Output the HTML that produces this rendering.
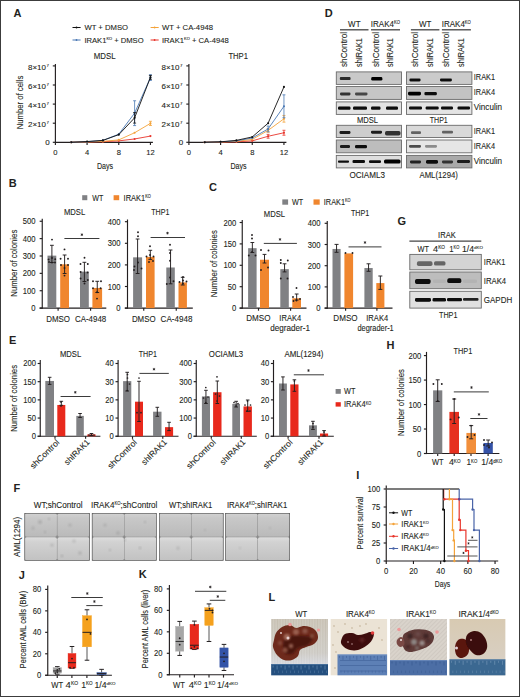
<!DOCTYPE html>
<html><head><meta charset="utf-8"><style>
html,body{margin:0;padding:0;background:#fff;overflow:hidden;width:520px;height:697px;}
svg{display:block;}
text{font-family:"Liberation Sans",sans-serif;}
</style></head><body>
<svg width="520" height="697" viewBox="0 0 520 697">
<defs>
<filter id="bl" x="-20%" y="-50%" width="140%" height="200%"><feGaussianBlur stdDeviation="0.55"/></filter>
<filter id="bl2" x="-20%" y="-20%" width="140%" height="140%"><feGaussianBlur stdDeviation="1.2"/></filter>
<linearGradient id="fgt" x1="0" y1="0" x2="0" y2="1"><stop offset="0" stop-color="#d2d2d2"/><stop offset="0.2" stop-color="#c8c8c8"/><stop offset="1" stop-color="#bababa"/></linearGradient>
<linearGradient id="fgb" x1="0" y1="0" x2="0" y2="1"><stop offset="0" stop-color="#dedede"/><stop offset="0.2" stop-color="#d2d2d2"/><stop offset="1" stop-color="#c2c2c2"/></linearGradient>
<linearGradient id="gwt" x1="0" y1="0" x2="0" y2="1"><stop offset="0" stop-color="#c6bfb1"/><stop offset="0.6" stop-color="#cbc8c2"/><stop offset="0.8" stop-color="#d4d6dc"/></linearGradient>
<linearGradient id="gdk" x1="0" y1="0" x2="0" y2="1"><stop offset="0" stop-color="#d8cab2"/><stop offset="0.7" stop-color="#d8cfc2"/><stop offset="1" stop-color="#cfc9c0"/></linearGradient>
<pattern id="hatch" width="3" height="3" patternUnits="userSpaceOnUse" patternTransform="rotate(45)"><line x1="0" y1="0" x2="0" y2="3" stroke="#a8a098" stroke-width="0.8"/></pattern>
</defs>
<rect x="0.00" y="0.00" width="520.00" height="697.00" fill="#ffffff"/>
<rect x="0.5" y="0.5" width="519" height="696" fill="none" stroke="#3c3c3c" stroke-width="1"/>
<text transform="translate(13.60,17.10)" font-size="11" text-anchor="start" fill="#231f20" font-weight="bold"><tspan>A</tspan></text>
<line x1="72.50" y1="27.50" x2="80.60" y2="27.50" stroke="#111111" stroke-width="1.0"/>
<circle cx="76.50" cy="27.50" r="0.90" fill="#111111"/>
<text transform="translate(84.40,30.20) scale(0.9623,1)" font-size="8.0" text-anchor="start" fill="#231f20" stroke="#231f20" stroke-width="0.1"><tspan>WT + DMSO</tspan></text>
<line x1="72.50" y1="40.00" x2="80.60" y2="40.00" stroke="#4a78b4" stroke-width="1.0"/>
<circle cx="76.50" cy="40.00" r="0.90" fill="#4a78b4"/>
<text transform="translate(84.40,42.70) scale(0.9526,1)" font-size="8.0" text-anchor="start" fill="#231f20" stroke="#231f20" stroke-width="0.1"><tspan>IRAK1</tspan><tspan font-size="4.16" dy="-2.40">KO</tspan><tspan dy="2.40"> + DMSO</tspan></text>
<line x1="150.60" y1="27.50" x2="158.70" y2="27.50" stroke="#f4a33a" stroke-width="1.0"/>
<circle cx="154.60" cy="27.50" r="0.90" fill="#f4a33a"/>
<text transform="translate(161.90,30.20) scale(0.9663,1)" font-size="8.0" text-anchor="start" fill="#231f20" stroke="#231f20" stroke-width="0.1"><tspan>WT + CA-4948</tspan></text>
<line x1="150.60" y1="40.00" x2="158.70" y2="40.00" stroke="#e8362c" stroke-width="1.0"/>
<circle cx="154.60" cy="40.00" r="0.90" fill="#e8362c"/>
<text transform="translate(161.90,42.70) scale(0.9581,1)" font-size="8.0" text-anchor="start" fill="#231f20" stroke="#231f20" stroke-width="0.1"><tspan>IRAK1</tspan><tspan font-size="4.16" dy="-2.40">KO</tspan><tspan dy="2.40"> + CA-4948</tspan></text>
<text transform="translate(104.70,58.50) scale(0.9497,1)" font-size="8.3" text-anchor="middle" fill="#231f20" stroke="#231f20" stroke-width="0.1"><tspan>MDSL</tspan></text>
<line x1="55.40" y1="64.00" x2="55.40" y2="142.85" stroke="#231f20" stroke-width="1.15"/>
<line x1="52.80" y1="65.90" x2="55.40" y2="65.90" stroke="#231f20" stroke-width="1.15"/>
<text transform="translate(46.00,69.90) scale(1.0245,1)" font-size="7.8" text-anchor="end" fill="#231f20" stroke="#231f20" stroke-width="0.1"><tspan>8×10</tspan></text>
<text transform="translate(46.40,66.80)" font-size="4.4" text-anchor="start" fill="#231f20" stroke="#231f20" stroke-width="0.1"><tspan>7</tspan></text>
<line x1="52.80" y1="85.00" x2="55.40" y2="85.00" stroke="#231f20" stroke-width="1.15"/>
<text transform="translate(46.00,89.00) scale(1.0245,1)" font-size="7.8" text-anchor="end" fill="#231f20" stroke="#231f20" stroke-width="0.1"><tspan>6×10</tspan></text>
<text transform="translate(46.40,85.90)" font-size="4.4" text-anchor="start" fill="#231f20" stroke="#231f20" stroke-width="0.1"><tspan>7</tspan></text>
<line x1="52.80" y1="104.10" x2="55.40" y2="104.10" stroke="#231f20" stroke-width="1.15"/>
<text transform="translate(46.00,108.10) scale(1.0245,1)" font-size="7.8" text-anchor="end" fill="#231f20" stroke="#231f20" stroke-width="0.1"><tspan>4×10</tspan></text>
<text transform="translate(46.40,105.00)" font-size="4.4" text-anchor="start" fill="#231f20" stroke="#231f20" stroke-width="0.1"><tspan>7</tspan></text>
<line x1="52.80" y1="123.20" x2="55.40" y2="123.20" stroke="#231f20" stroke-width="1.15"/>
<text transform="translate(46.00,127.20) scale(1.0245,1)" font-size="7.8" text-anchor="end" fill="#231f20" stroke="#231f20" stroke-width="0.1"><tspan>2×10</tspan></text>
<text transform="translate(46.40,124.10)" font-size="4.4" text-anchor="start" fill="#231f20" stroke="#231f20" stroke-width="0.1"><tspan>7</tspan></text>
<line x1="52.80" y1="142.30" x2="55.40" y2="142.30" stroke="#231f20" stroke-width="1.15"/>
<text transform="translate(49.80,145.30)" font-size="8.0" text-anchor="end" fill="#231f20" stroke="#231f20" stroke-width="0.1"><tspan>0</tspan></text>
<line x1="55.40" y1="142.30" x2="152.90" y2="142.30" stroke="#231f20" stroke-width="1.15"/>
<line x1="55.40" y1="142.30" x2="55.40" y2="145.00" stroke="#231f20" stroke-width="1.15"/>
<text transform="translate(55.40,155.40) scale(0.9500,1)" font-size="8.0" text-anchor="middle" fill="#231f20" stroke="#231f20" stroke-width="0.1"><tspan>0</tspan></text>
<line x1="87.08" y1="142.30" x2="87.08" y2="145.00" stroke="#231f20" stroke-width="1.15"/>
<text transform="translate(87.08,155.40) scale(0.9500,1)" font-size="8.0" text-anchor="middle" fill="#231f20" stroke="#231f20" stroke-width="0.1"><tspan>4</tspan></text>
<line x1="118.76" y1="142.30" x2="118.76" y2="145.00" stroke="#231f20" stroke-width="1.15"/>
<text transform="translate(118.76,155.40) scale(0.9500,1)" font-size="8.0" text-anchor="middle" fill="#231f20" stroke="#231f20" stroke-width="0.1"><tspan>8</tspan></text>
<line x1="150.44" y1="142.30" x2="150.44" y2="145.00" stroke="#231f20" stroke-width="1.15"/>
<text transform="translate(150.44,155.40) scale(0.9500,1)" font-size="8.0" text-anchor="middle" fill="#231f20" stroke="#231f20" stroke-width="0.1"><tspan>12</tspan></text>
<text transform="translate(105.00,168.60) scale(0.8268,1)" font-size="8.6" text-anchor="middle" fill="#231f20" stroke="#231f20" stroke-width="0.1"><tspan>Days</tspan></text>
<text transform="translate(22.90,102.50) rotate(-90) scale(0.8885,1)" font-size="8.7" text-anchor="middle" fill="#231f20" stroke="#231f20" stroke-width="0.1"><tspan>Number of cells</tspan></text>
<polyline points="71.24,142.30 87.08,142.01 102.92,141.73 118.76,140.87 134.60,138.96 150.44,136.09" fill="none" stroke="#e8362c" stroke-width="0.9"/>
<circle cx="71.24" cy="142.30" r="1.05" fill="#e8362c"/>
<circle cx="87.08" cy="142.01" r="1.05" fill="#e8362c"/>
<circle cx="102.92" cy="141.73" r="1.05" fill="#e8362c"/>
<circle cx="118.76" cy="140.87" r="1.05" fill="#e8362c"/>
<circle cx="134.60" cy="138.96" r="1.05" fill="#e8362c"/>
<circle cx="150.44" cy="136.09" r="1.05" fill="#e8362c"/>
<polyline points="71.24,142.30 87.08,141.92 102.92,141.34 118.76,139.91 134.60,132.75 150.44,123.39" fill="none" stroke="#f4a33a" stroke-width="0.9"/>
<circle cx="71.24" cy="142.30" r="1.05" fill="#f4a33a"/>
<circle cx="87.08" cy="141.92" r="1.05" fill="#f4a33a"/>
<circle cx="102.92" cy="141.34" r="1.05" fill="#f4a33a"/>
<circle cx="118.76" cy="139.91" r="1.05" fill="#f4a33a"/>
<circle cx="134.60" cy="132.75" r="1.05" fill="#f4a33a"/>
<circle cx="150.44" cy="123.39" r="1.05" fill="#f4a33a"/>
<line x1="150.44" y1="121.29" x2="150.44" y2="125.49" stroke="#f4a33a" stroke-width="0.8"/>
<line x1="148.94" y1="121.29" x2="151.94" y2="121.29" stroke="#f4a33a" stroke-width="0.8"/>
<line x1="148.94" y1="125.49" x2="151.94" y2="125.49" stroke="#f4a33a" stroke-width="0.8"/>
<polyline points="71.24,142.30 87.08,141.73 102.92,140.39 118.76,134.18 134.60,113.17 150.44,77.55" fill="none" stroke="#4a78b4" stroke-width="0.9"/>
<circle cx="71.24" cy="142.30" r="1.05" fill="#4a78b4"/>
<circle cx="87.08" cy="141.73" r="1.05" fill="#4a78b4"/>
<circle cx="102.92" cy="140.39" r="1.05" fill="#4a78b4"/>
<circle cx="118.76" cy="134.18" r="1.05" fill="#4a78b4"/>
<circle cx="134.60" cy="113.17" r="1.05" fill="#4a78b4"/>
<line x1="134.60" y1="100.76" x2="134.60" y2="125.59" stroke="#4a78b4" stroke-width="0.8"/>
<line x1="133.10" y1="100.76" x2="136.10" y2="100.76" stroke="#4a78b4" stroke-width="0.8"/>
<line x1="133.10" y1="125.59" x2="136.10" y2="125.59" stroke="#4a78b4" stroke-width="0.8"/>
<circle cx="150.44" cy="77.55" r="1.05" fill="#4a78b4"/>
<line x1="150.44" y1="74.69" x2="150.44" y2="80.42" stroke="#4a78b4" stroke-width="0.8"/>
<line x1="148.94" y1="74.69" x2="151.94" y2="74.69" stroke="#4a78b4" stroke-width="0.8"/>
<line x1="148.94" y1="80.42" x2="151.94" y2="80.42" stroke="#4a78b4" stroke-width="0.8"/>
<polyline points="71.24,142.30 87.08,141.54 102.92,140.39 118.76,134.66 134.60,117.85 150.44,77.36" fill="none" stroke="#111111" stroke-width="0.9"/>
<circle cx="71.24" cy="142.30" r="1.05" fill="#111111"/>
<circle cx="87.08" cy="141.54" r="1.05" fill="#111111"/>
<circle cx="102.92" cy="140.39" r="1.05" fill="#111111"/>
<circle cx="118.76" cy="134.66" r="1.05" fill="#111111"/>
<circle cx="134.60" cy="117.85" r="1.05" fill="#111111"/>
<line x1="134.60" y1="112.60" x2="134.60" y2="123.10" stroke="#111111" stroke-width="0.8"/>
<line x1="133.10" y1="112.60" x2="136.10" y2="112.60" stroke="#111111" stroke-width="0.8"/>
<line x1="133.10" y1="123.10" x2="136.10" y2="123.10" stroke="#111111" stroke-width="0.8"/>
<circle cx="150.44" cy="77.36" r="1.05" fill="#111111"/>
<line x1="150.44" y1="75.45" x2="150.44" y2="79.27" stroke="#111111" stroke-width="0.8"/>
<line x1="148.94" y1="75.45" x2="151.94" y2="75.45" stroke="#111111" stroke-width="0.8"/>
<line x1="148.94" y1="79.27" x2="151.94" y2="79.27" stroke="#111111" stroke-width="0.8"/>
<text transform="translate(238.20,58.50) scale(0.9238,1)" font-size="8.3" text-anchor="middle" fill="#231f20" stroke="#231f20" stroke-width="0.1"><tspan>THP1</tspan></text>
<line x1="188.90" y1="64.00" x2="188.90" y2="142.85" stroke="#231f20" stroke-width="1.15"/>
<line x1="186.30" y1="65.90" x2="188.90" y2="65.90" stroke="#231f20" stroke-width="1.15"/>
<text transform="translate(179.50,69.90) scale(1.0245,1)" font-size="7.8" text-anchor="end" fill="#231f20" stroke="#231f20" stroke-width="0.1"><tspan>8×10</tspan></text>
<text transform="translate(179.90,66.80)" font-size="4.4" text-anchor="start" fill="#231f20" stroke="#231f20" stroke-width="0.1"><tspan>7</tspan></text>
<line x1="186.30" y1="85.00" x2="188.90" y2="85.00" stroke="#231f20" stroke-width="1.15"/>
<text transform="translate(179.50,89.00) scale(1.0245,1)" font-size="7.8" text-anchor="end" fill="#231f20" stroke="#231f20" stroke-width="0.1"><tspan>6×10</tspan></text>
<text transform="translate(179.90,85.90)" font-size="4.4" text-anchor="start" fill="#231f20" stroke="#231f20" stroke-width="0.1"><tspan>7</tspan></text>
<line x1="186.30" y1="104.10" x2="188.90" y2="104.10" stroke="#231f20" stroke-width="1.15"/>
<text transform="translate(179.50,108.10) scale(1.0245,1)" font-size="7.8" text-anchor="end" fill="#231f20" stroke="#231f20" stroke-width="0.1"><tspan>4×10</tspan></text>
<text transform="translate(179.90,105.00)" font-size="4.4" text-anchor="start" fill="#231f20" stroke="#231f20" stroke-width="0.1"><tspan>7</tspan></text>
<line x1="186.30" y1="123.20" x2="188.90" y2="123.20" stroke="#231f20" stroke-width="1.15"/>
<text transform="translate(179.50,127.20) scale(1.0245,1)" font-size="7.8" text-anchor="end" fill="#231f20" stroke="#231f20" stroke-width="0.1"><tspan>2×10</tspan></text>
<text transform="translate(179.90,124.10)" font-size="4.4" text-anchor="start" fill="#231f20" stroke="#231f20" stroke-width="0.1"><tspan>7</tspan></text>
<line x1="186.30" y1="142.30" x2="188.90" y2="142.30" stroke="#231f20" stroke-width="1.15"/>
<text transform="translate(183.30,145.30)" font-size="8.0" text-anchor="end" fill="#231f20" stroke="#231f20" stroke-width="0.1"><tspan>0</tspan></text>
<line x1="188.90" y1="142.30" x2="286.40" y2="142.30" stroke="#231f20" stroke-width="1.15"/>
<line x1="188.90" y1="142.30" x2="188.90" y2="145.00" stroke="#231f20" stroke-width="1.15"/>
<text transform="translate(188.90,155.40) scale(0.9500,1)" font-size="8.0" text-anchor="middle" fill="#231f20" stroke="#231f20" stroke-width="0.1"><tspan>0</tspan></text>
<line x1="220.58" y1="142.30" x2="220.58" y2="145.00" stroke="#231f20" stroke-width="1.15"/>
<text transform="translate(220.58,155.40) scale(0.9500,1)" font-size="8.0" text-anchor="middle" fill="#231f20" stroke="#231f20" stroke-width="0.1"><tspan>4</tspan></text>
<line x1="252.26" y1="142.30" x2="252.26" y2="145.00" stroke="#231f20" stroke-width="1.15"/>
<text transform="translate(252.26,155.40) scale(0.9500,1)" font-size="8.0" text-anchor="middle" fill="#231f20" stroke="#231f20" stroke-width="0.1"><tspan>8</tspan></text>
<line x1="283.94" y1="142.30" x2="283.94" y2="145.00" stroke="#231f20" stroke-width="1.15"/>
<text transform="translate(283.94,155.40) scale(0.9500,1)" font-size="8.0" text-anchor="middle" fill="#231f20" stroke="#231f20" stroke-width="0.1"><tspan>12</tspan></text>
<text transform="translate(238.50,168.60) scale(0.8268,1)" font-size="8.6" text-anchor="middle" fill="#231f20" stroke="#231f20" stroke-width="0.1"><tspan>Days</tspan></text>
<polyline points="204.74,142.30 220.58,142.11 236.42,141.82 252.26,140.87 268.10,136.28 283.94,132.75" fill="none" stroke="#e8362c" stroke-width="0.9"/>
<circle cx="204.74" cy="142.30" r="1.05" fill="#e8362c"/>
<circle cx="220.58" cy="142.11" r="1.05" fill="#e8362c"/>
<circle cx="236.42" cy="141.82" r="1.05" fill="#e8362c"/>
<circle cx="252.26" cy="140.87" r="1.05" fill="#e8362c"/>
<circle cx="268.10" cy="136.28" r="1.05" fill="#e8362c"/>
<line x1="268.10" y1="134.37" x2="268.10" y2="138.19" stroke="#e8362c" stroke-width="0.8"/>
<line x1="266.60" y1="134.37" x2="269.60" y2="134.37" stroke="#e8362c" stroke-width="0.8"/>
<line x1="266.60" y1="138.19" x2="269.60" y2="138.19" stroke="#e8362c" stroke-width="0.8"/>
<circle cx="283.94" cy="132.75" r="1.05" fill="#e8362c"/>
<line x1="283.94" y1="130.27" x2="283.94" y2="135.23" stroke="#e8362c" stroke-width="0.8"/>
<line x1="282.44" y1="130.27" x2="285.44" y2="130.27" stroke="#e8362c" stroke-width="0.8"/>
<line x1="282.44" y1="135.23" x2="285.44" y2="135.23" stroke="#e8362c" stroke-width="0.8"/>
<polyline points="204.74,142.30 220.58,141.92 236.42,141.34 252.26,139.44 268.10,130.36 283.94,118.81" fill="none" stroke="#f4a33a" stroke-width="0.9"/>
<circle cx="204.74" cy="142.30" r="1.05" fill="#f4a33a"/>
<circle cx="220.58" cy="141.92" r="1.05" fill="#f4a33a"/>
<circle cx="236.42" cy="141.34" r="1.05" fill="#f4a33a"/>
<circle cx="252.26" cy="139.44" r="1.05" fill="#f4a33a"/>
<circle cx="268.10" cy="130.36" r="1.05" fill="#f4a33a"/>
<line x1="268.10" y1="128.45" x2="268.10" y2="132.27" stroke="#f4a33a" stroke-width="0.8"/>
<line x1="266.60" y1="128.45" x2="269.60" y2="128.45" stroke="#f4a33a" stroke-width="0.8"/>
<line x1="266.60" y1="132.27" x2="269.60" y2="132.27" stroke="#f4a33a" stroke-width="0.8"/>
<circle cx="283.94" cy="118.81" r="1.05" fill="#f4a33a"/>
<line x1="283.94" y1="115.46" x2="283.94" y2="122.15" stroke="#f4a33a" stroke-width="0.8"/>
<line x1="282.44" y1="115.46" x2="285.44" y2="115.46" stroke="#f4a33a" stroke-width="0.8"/>
<line x1="282.44" y1="122.15" x2="285.44" y2="122.15" stroke="#f4a33a" stroke-width="0.8"/>
<polyline points="204.74,142.30 220.58,141.82 236.42,140.87 252.26,138.00 268.10,128.93 283.94,106.30" fill="none" stroke="#4a78b4" stroke-width="0.9"/>
<circle cx="204.74" cy="142.30" r="1.05" fill="#4a78b4"/>
<circle cx="220.58" cy="141.82" r="1.05" fill="#4a78b4"/>
<circle cx="236.42" cy="140.87" r="1.05" fill="#4a78b4"/>
<circle cx="252.26" cy="138.00" r="1.05" fill="#4a78b4"/>
<circle cx="268.10" cy="128.93" r="1.05" fill="#4a78b4"/>
<line x1="268.10" y1="126.07" x2="268.10" y2="131.80" stroke="#4a78b4" stroke-width="0.8"/>
<line x1="266.60" y1="126.07" x2="269.60" y2="126.07" stroke="#4a78b4" stroke-width="0.8"/>
<line x1="266.60" y1="131.80" x2="269.60" y2="131.80" stroke="#4a78b4" stroke-width="0.8"/>
<circle cx="283.94" cy="106.30" r="1.05" fill="#4a78b4"/>
<line x1="283.94" y1="94.84" x2="283.94" y2="117.76" stroke="#4a78b4" stroke-width="0.8"/>
<line x1="282.44" y1="94.84" x2="285.44" y2="94.84" stroke="#4a78b4" stroke-width="0.8"/>
<line x1="282.44" y1="117.76" x2="285.44" y2="117.76" stroke="#4a78b4" stroke-width="0.8"/>
<polyline points="204.74,142.30 220.58,141.82 236.42,140.39 252.26,136.95 268.10,123.20 283.94,86.91" fill="none" stroke="#111111" stroke-width="0.9"/>
<circle cx="204.74" cy="142.30" r="1.05" fill="#111111"/>
<circle cx="220.58" cy="141.82" r="1.05" fill="#111111"/>
<circle cx="236.42" cy="140.39" r="1.05" fill="#111111"/>
<circle cx="252.26" cy="136.95" r="1.05" fill="#111111"/>
<circle cx="268.10" cy="123.20" r="1.05" fill="#111111"/>
<circle cx="283.94" cy="86.91" r="1.05" fill="#111111"/>
<text transform="translate(324.80,17.30)" font-size="11" text-anchor="start" fill="#231f20" font-weight="bold"><tspan>D</tspan></text>
<text transform="translate(354.30,26.60) scale(0.9274,1)" font-size="8.6" text-anchor="middle" fill="#231f20" stroke="#231f20" stroke-width="0.1"><tspan>WT</tspan></text>
<line x1="340.00" y1="29.80" x2="368.50" y2="29.80" stroke="#444" stroke-width="1.3"/>
<text transform="translate(370.80,26.60) scale(0.9324,1)" font-size="8.6" text-anchor="start" fill="#231f20" stroke="#231f20" stroke-width="0.1"><tspan>IRAK4</tspan><tspan font-size="4.47" dy="-2.58">KO</tspan></text>
<line x1="371.00" y1="29.80" x2="400.00" y2="29.80" stroke="#444" stroke-width="1.3"/>
<text transform="translate(425.20,26.60) scale(0.9274,1)" font-size="8.6" text-anchor="middle" fill="#231f20" stroke="#231f20" stroke-width="0.1"><tspan>WT</tspan></text>
<line x1="410.90" y1="29.80" x2="439.40" y2="29.80" stroke="#444" stroke-width="1.3"/>
<text transform="translate(441.70,26.60) scale(0.9324,1)" font-size="8.6" text-anchor="start" fill="#231f20" stroke="#231f20" stroke-width="0.1"><tspan>IRAK4</tspan><tspan font-size="4.47" dy="-2.58">KO</tspan></text>
<line x1="441.90" y1="29.80" x2="470.90" y2="29.80" stroke="#444" stroke-width="1.3"/>
<text transform="translate(346.90,67.00) rotate(-90) scale(0.9427,1)" font-size="8.7" text-anchor="start" fill="#231f20" stroke="#231f20" stroke-width="0.1"><tspan>shControl</tspan></text>
<text transform="translate(361.90,67.00) rotate(-90) scale(0.8417,1)" font-size="8.7" text-anchor="start" fill="#231f20" stroke="#231f20" stroke-width="0.1"><tspan>shIRAK1</tspan></text>
<text transform="translate(378.70,67.00) rotate(-90) scale(0.9427,1)" font-size="8.7" text-anchor="start" fill="#231f20" stroke="#231f20" stroke-width="0.1"><tspan>shControl</tspan></text>
<text transform="translate(393.10,67.00) rotate(-90) scale(0.8417,1)" font-size="8.7" text-anchor="start" fill="#231f20" stroke="#231f20" stroke-width="0.1"><tspan>shIRAK1</tspan></text>
<text transform="translate(417.60,67.00) rotate(-90) scale(0.9427,1)" font-size="8.7" text-anchor="start" fill="#231f20" stroke="#231f20" stroke-width="0.1"><tspan>shControl</tspan></text>
<text transform="translate(432.50,67.00) rotate(-90) scale(0.8417,1)" font-size="8.7" text-anchor="start" fill="#231f20" stroke="#231f20" stroke-width="0.1"><tspan>shIRAK1</tspan></text>
<text transform="translate(449.40,67.00) rotate(-90) scale(0.9427,1)" font-size="8.7" text-anchor="start" fill="#231f20" stroke="#231f20" stroke-width="0.1"><tspan>shControl</tspan></text>
<text transform="translate(463.80,67.00) rotate(-90) scale(0.8417,1)" font-size="8.7" text-anchor="start" fill="#231f20" stroke="#231f20" stroke-width="0.1"><tspan>shIRAK1</tspan></text>
<rect x="336.30" y="71.90" width="65.20" height="12.50" fill="#c9c9c9" stroke="#6a6a6a" stroke-width="0.9"/>
<rect x="336.30" y="86.50" width="65.20" height="12.90" fill="#c6c6c6" stroke="#6a6a6a" stroke-width="0.9"/>
<rect x="336.30" y="101.90" width="65.20" height="12.50" fill="#e2e2e2" stroke="#6a6a6a" stroke-width="0.9"/>
<rect x="336.30" y="125.30" width="65.20" height="12.20" fill="#cdcdcd" stroke="#6a6a6a" stroke-width="0.9"/>
<rect x="336.30" y="140.00" width="65.20" height="12.80" fill="#bdbdbd" stroke="#6a6a6a" stroke-width="0.9"/>
<rect x="336.30" y="155.40" width="65.20" height="12.50" fill="#dedede" stroke="#6a6a6a" stroke-width="0.9"/>
<rect x="406.50" y="71.90" width="65.40" height="12.50" fill="#cbcbcb" stroke="#6a6a6a" stroke-width="0.9"/>
<rect x="406.50" y="86.50" width="65.40" height="12.90" fill="#c3c3c3" stroke="#6a6a6a" stroke-width="0.9"/>
<rect x="406.50" y="101.90" width="65.40" height="12.50" fill="#e4e4e4" stroke="#6a6a6a" stroke-width="0.9"/>
<rect x="406.50" y="125.30" width="65.40" height="12.20" fill="#d9d9d9" stroke="#6a6a6a" stroke-width="0.9"/>
<rect x="406.50" y="140.00" width="65.40" height="12.80" fill="#e6e6e6" stroke="#6a6a6a" stroke-width="0.9"/>
<rect x="406.50" y="155.40" width="65.40" height="12.50" fill="#a9a9a9" stroke="#6a6a6a" stroke-width="0.9"/>
<rect x="339.80" y="77.10" width="10.80" height="3.00" rx="1.15" fill="#1a1a1a" opacity="0.9" filter="url(#bl)"/>
<rect x="371.20" y="77.00" width="11.20" height="3.60" rx="1.38" fill="#050505" opacity="1.0" filter="url(#bl)"/>
<rect x="340.00" y="92.50" width="10.50" height="3.00" rx="1.15" fill="#222" opacity="0.9" filter="url(#bl)"/>
<rect x="355.00" y="92.50" width="12.50" height="3.00" rx="1.15" fill="#333" opacity="0.85" filter="url(#bl)"/>
<rect x="338.00" y="106.50" width="12.50" height="3.20" rx="1.23" fill="#0a0a0a" opacity="1.0" filter="url(#bl)"/>
<rect x="353.00" y="106.50" width="14.00" height="3.20" rx="1.23" fill="#0a0a0a" opacity="1.0" filter="url(#bl)"/>
<rect x="371.00" y="106.50" width="9.50" height="3.20" rx="1.23" fill="#0a0a0a" opacity="1.0" filter="url(#bl)"/>
<rect x="386.00" y="106.50" width="12.00" height="3.20" rx="1.23" fill="#0a0a0a" opacity="1.0" filter="url(#bl)"/>
<rect x="409.40" y="78.60" width="11.20" height="2.80" rx="1.08" fill="#111" opacity="1.0" filter="url(#bl)"/>
<rect x="440.00" y="78.50" width="11.90" height="3.00" rx="1.15" fill="#111" opacity="1.0" filter="url(#bl)"/>
<rect x="408.00" y="91.70" width="13.00" height="3.80" rx="1.46" fill="#050505" opacity="1.0" filter="url(#bl)"/>
<rect x="424.40" y="92.00" width="12.50" height="3.20" rx="1.23" fill="#111" opacity="1.0" filter="url(#bl)"/>
<rect x="409.00" y="106.60" width="13.00" height="3.00" rx="1.15" fill="#0a0a0a" opacity="1.0" filter="url(#bl)"/>
<rect x="425.60" y="106.60" width="13.10" height="3.00" rx="1.15" fill="#0a0a0a" opacity="1.0" filter="url(#bl)"/>
<rect x="441.00" y="106.60" width="12.00" height="3.00" rx="1.15" fill="#0a0a0a" opacity="1.0" filter="url(#bl)"/>
<rect x="457.50" y="106.60" width="12.50" height="3.00" rx="1.15" fill="#0a0a0a" opacity="1.0" filter="url(#bl)"/>
<rect x="339.50" y="131.00" width="11.00" height="3.00" rx="1.15" fill="#1a1a1a" opacity="1.0" filter="url(#bl)"/>
<rect x="371.00" y="130.70" width="11.00" height="3.00" rx="1.15" fill="#1a1a1a" opacity="1.0" filter="url(#bl)"/>
<rect x="385.00" y="131.00" width="15.50" height="4.60" rx="1.77" fill="#202020" opacity="0.9" filter="url(#bl)"/>
<rect x="340.00" y="145.10" width="10.00" height="3.00" rx="1.15" fill="#1a1a1a" opacity="1.0" filter="url(#bl)"/>
<rect x="355.00" y="144.90" width="12.00" height="3.40" rx="1.31" fill="#111" opacity="1.0" filter="url(#bl)"/>
<rect x="338.00" y="160.50" width="11.00" height="2.20" rx="0.85" fill="#111" opacity="1.0" filter="url(#bl)"/>
<rect x="352.50" y="160.10" width="12.50" height="3.00" rx="1.15" fill="#111" opacity="1.0" filter="url(#bl)"/>
<rect x="369.00" y="160.20" width="12.00" height="2.80" rx="1.08" fill="#111" opacity="1.0" filter="url(#bl)"/>
<rect x="384.00" y="159.50" width="16.50" height="4.00" rx="1.54" fill="#050505" opacity="1.0" filter="url(#bl)"/>
<rect x="411.00" y="131.30" width="10.00" height="2.60" rx="1.00" fill="#444" opacity="0.8" filter="url(#bl)"/>
<rect x="442.00" y="130.80" width="11.00" height="2.80" rx="1.08" fill="#444" opacity="0.8" filter="url(#bl)"/>
<rect x="409.00" y="144.90" width="12.00" height="2.80" rx="1.08" fill="#333" opacity="0.85" filter="url(#bl)"/>
<rect x="425.00" y="144.90" width="12.00" height="2.80" rx="1.08" fill="#666" opacity="0.7" filter="url(#bl)"/>
<rect x="410.00" y="160.40" width="11.00" height="3.00" rx="1.15" fill="#222" opacity="1.0" filter="url(#bl)"/>
<rect x="426.00" y="160.00" width="12.00" height="3.80" rx="1.46" fill="#111" opacity="1.0" filter="url(#bl)"/>
<rect x="442.00" y="160.40" width="11.00" height="3.00" rx="1.15" fill="#333" opacity="1.0" filter="url(#bl)"/>
<rect x="457.00" y="159.90" width="13.00" height="3.20" rx="1.23" fill="#1a1a1a" opacity="1.0" filter="url(#bl)"/>
<text transform="translate(473.80,80.30) scale(0.8569,1)" font-size="8.6" text-anchor="start" fill="#231f20" stroke="#231f20" stroke-width="0.1"><tspan>IRAK1</tspan></text>
<text transform="translate(473.80,95.40) scale(0.8569,1)" font-size="8.6" text-anchor="start" fill="#231f20" stroke="#231f20" stroke-width="0.1"><tspan>IRAK4</tspan></text>
<text transform="translate(473.80,110.30) scale(0.9412,1)" font-size="8.6" text-anchor="start" fill="#231f20" stroke="#231f20" stroke-width="0.1"><tspan>Vinculin</tspan></text>
<text transform="translate(473.80,133.80) scale(0.8569,1)" font-size="8.6" text-anchor="start" fill="#231f20" stroke="#231f20" stroke-width="0.1"><tspan>IRAK1</tspan></text>
<text transform="translate(473.80,148.80) scale(0.8569,1)" font-size="8.6" text-anchor="start" fill="#231f20" stroke="#231f20" stroke-width="0.1"><tspan>IRAK4</tspan></text>
<text transform="translate(473.80,163.80) scale(0.9412,1)" font-size="8.6" text-anchor="start" fill="#231f20" stroke="#231f20" stroke-width="0.1"><tspan>Vinculin</tspan></text>
<text transform="translate(367.50,122.80) scale(0.8977,1)" font-size="8.5" text-anchor="middle" fill="#231f20" stroke="#231f20" stroke-width="0.1"><tspan>MDSL</tspan></text>
<text transform="translate(438.80,122.80) scale(0.8284,1)" font-size="8.5" text-anchor="middle" fill="#231f20" stroke="#231f20" stroke-width="0.1"><tspan>THP1</tspan></text>
<text transform="translate(367.20,178.10) scale(0.9540,1)" font-size="8.5" text-anchor="middle" fill="#231f20" stroke="#231f20" stroke-width="0.1"><tspan>OCIAML3</tspan></text>
<text transform="translate(438.70,178.10) scale(0.9180,1)" font-size="8.5" text-anchor="middle" fill="#231f20" stroke="#231f20" stroke-width="0.1"><tspan>AML(1294)</tspan></text>
<text transform="translate(8.70,186.90)" font-size="11" text-anchor="start" fill="#231f20" font-weight="bold"><tspan>B</tspan></text>
<rect x="82.20" y="195.20" width="5.10" height="5.00" fill="#808184"/>
<text transform="translate(92.30,200.60) scale(0.8400,1)" font-size="8.5" text-anchor="start" fill="#231f20" stroke="#231f20" stroke-width="0.1"><tspan>WT</tspan></text>
<rect x="113.60" y="195.20" width="5.60" height="5.00" fill="#f0862e"/>
<text transform="translate(123.60,200.60) scale(0.8820,1)" font-size="8.5" text-anchor="start" fill="#231f20" stroke="#231f20" stroke-width="0.1"><tspan>IRAK1</tspan><tspan font-size="4.42" dy="-2.55">KO</tspan></text>
<text transform="translate(74.60,215.00) scale(0.9019,1)" font-size="8.5" text-anchor="middle" fill="#231f20" stroke="#231f20" stroke-width="0.1"><tspan>MDSL</tspan></text>
<line x1="42.25" y1="218.80" x2="42.25" y2="308.65" stroke="#231f20" stroke-width="1.15"/>
<line x1="39.65" y1="221.25" x2="42.25" y2="221.25" stroke="#231f20" stroke-width="1.15"/>
<text transform="translate(35.60,224.25) scale(0.9000,1)" font-size="8.5" text-anchor="end" fill="#231f20" stroke="#231f20" stroke-width="0.1"><tspan>500</tspan></text>
<line x1="39.65" y1="238.62" x2="42.25" y2="238.62" stroke="#231f20" stroke-width="1.15"/>
<text transform="translate(35.60,241.62) scale(0.9000,1)" font-size="8.5" text-anchor="end" fill="#231f20" stroke="#231f20" stroke-width="0.1"><tspan>400</tspan></text>
<line x1="39.65" y1="255.99" x2="42.25" y2="255.99" stroke="#231f20" stroke-width="1.15"/>
<text transform="translate(35.60,258.99) scale(0.9000,1)" font-size="8.5" text-anchor="end" fill="#231f20" stroke="#231f20" stroke-width="0.1"><tspan>300</tspan></text>
<line x1="39.65" y1="273.36" x2="42.25" y2="273.36" stroke="#231f20" stroke-width="1.15"/>
<text transform="translate(35.60,276.36) scale(0.9000,1)" font-size="8.5" text-anchor="end" fill="#231f20" stroke="#231f20" stroke-width="0.1"><tspan>200</tspan></text>
<line x1="39.65" y1="290.73" x2="42.25" y2="290.73" stroke="#231f20" stroke-width="1.15"/>
<text transform="translate(35.60,293.73) scale(0.9000,1)" font-size="8.5" text-anchor="end" fill="#231f20" stroke="#231f20" stroke-width="0.1"><tspan>100</tspan></text>
<line x1="39.65" y1="308.10" x2="42.25" y2="308.10" stroke="#231f20" stroke-width="1.15"/>
<text transform="translate(35.60,311.10) scale(0.9000,1)" font-size="8.5" text-anchor="end" fill="#231f20" stroke="#231f20" stroke-width="0.1"><tspan>0</tspan></text>
<line x1="39.60" y1="308.10" x2="106.30" y2="308.10" stroke="#231f20" stroke-width="1.15"/>
<line x1="58.10" y1="308.10" x2="58.10" y2="310.70" stroke="#231f20" stroke-width="1.15"/>
<line x1="90.60" y1="308.10" x2="90.60" y2="310.70" stroke="#231f20" stroke-width="1.15"/>
<text transform="translate(58.10,321.70) scale(0.9333,1)" font-size="8.5" text-anchor="middle" fill="#231f20" stroke="#231f20" stroke-width="0.1"><tspan>DMSO</tspan></text>
<text transform="translate(90.60,321.70) scale(0.9330,1)" font-size="8.5" text-anchor="middle" fill="#231f20" stroke="#231f20" stroke-width="0.1"><tspan>CA-4948</tspan></text>
<rect x="47.50" y="255.64" width="8.80" height="52.46" fill="#808184"/>
<line x1="51.90" y1="245.30" x2="51.90" y2="262.50" stroke="#231f20" stroke-width="0.95"/>
<line x1="50.00" y1="245.30" x2="53.80" y2="245.30" stroke="#231f20" stroke-width="0.95"/>
<line x1="50.00" y1="262.50" x2="53.80" y2="262.50" stroke="#231f20" stroke-width="0.95"/>
<circle cx="52.00" cy="239.60" r="0.95" fill="#231f20"/>
<circle cx="48.60" cy="259.50" r="0.95" fill="#231f20"/>
<circle cx="55.20" cy="259.20" r="0.95" fill="#231f20"/>
<circle cx="49.00" cy="262.00" r="0.95" fill="#231f20"/>
<circle cx="55.00" cy="262.50" r="0.95" fill="#231f20"/>
<circle cx="52.00" cy="258.00" r="0.95" fill="#231f20"/>
<circle cx="52.00" cy="262.60" r="0.95" fill="#231f20"/>
<rect x="60.20" y="264.33" width="8.80" height="43.77" fill="#f0862e"/>
<line x1="64.60" y1="255.00" x2="64.60" y2="273.50" stroke="#231f20" stroke-width="0.95"/>
<line x1="62.70" y1="255.00" x2="66.50" y2="255.00" stroke="#231f20" stroke-width="0.95"/>
<line x1="62.70" y1="273.50" x2="66.50" y2="273.50" stroke="#231f20" stroke-width="0.95"/>
<circle cx="64.50" cy="249.40" r="0.95" fill="#231f20"/>
<circle cx="60.60" cy="258.80" r="0.95" fill="#231f20"/>
<circle cx="68.00" cy="258.80" r="0.95" fill="#231f20"/>
<circle cx="61.00" cy="265.00" r="0.95" fill="#231f20"/>
<circle cx="68.00" cy="265.00" r="0.95" fill="#231f20"/>
<circle cx="64.50" cy="275.60" r="0.95" fill="#231f20"/>
<circle cx="64.50" cy="268.00" r="0.95" fill="#231f20"/>
<rect x="80.00" y="271.62" width="8.80" height="36.48" fill="#808184"/>
<line x1="84.40" y1="262.30" x2="84.40" y2="281.50" stroke="#231f20" stroke-width="0.95"/>
<line x1="82.50" y1="262.30" x2="86.30" y2="262.30" stroke="#231f20" stroke-width="0.95"/>
<line x1="82.50" y1="281.50" x2="86.30" y2="281.50" stroke="#231f20" stroke-width="0.95"/>
<circle cx="84.50" cy="257.80" r="0.95" fill="#231f20"/>
<circle cx="80.50" cy="264.00" r="0.95" fill="#231f20"/>
<circle cx="87.80" cy="264.00" r="0.95" fill="#231f20"/>
<circle cx="80.60" cy="272.00" r="0.95" fill="#231f20"/>
<circle cx="87.60" cy="272.50" r="0.95" fill="#231f20"/>
<circle cx="80.60" cy="278.50" r="0.95" fill="#231f20"/>
<circle cx="87.80" cy="280.00" r="0.95" fill="#231f20"/>
<circle cx="84.50" cy="283.50" r="0.95" fill="#231f20"/>
<rect x="92.40" y="287.95" width="9.70" height="20.15" fill="#f0862e"/>
<line x1="97.25" y1="281.30" x2="97.25" y2="292.50" stroke="#231f20" stroke-width="0.95"/>
<line x1="95.35" y1="281.30" x2="99.15" y2="281.30" stroke="#231f20" stroke-width="0.95"/>
<line x1="95.35" y1="292.50" x2="99.15" y2="292.50" stroke="#231f20" stroke-width="0.95"/>
<circle cx="93.00" cy="281.20" r="0.95" fill="#231f20"/>
<circle cx="101.00" cy="281.20" r="0.95" fill="#231f20"/>
<circle cx="93.00" cy="288.20" r="0.95" fill="#231f20"/>
<circle cx="100.60" cy="288.20" r="0.95" fill="#231f20"/>
<circle cx="97.00" cy="292.20" r="0.95" fill="#231f20"/>
<circle cx="97.00" cy="298.60" r="0.95" fill="#231f20"/>
<line x1="64.40" y1="238.50" x2="99.40" y2="238.50" stroke="#3a3a3a" stroke-width="1.0"/>
<line x1="81.90" y1="233.40" x2="81.90" y2="236.00" stroke="#231f20" stroke-width="0.75"/>
<line x1="80.77" y1="234.05" x2="83.03" y2="235.35" stroke="#231f20" stroke-width="0.75"/>
<line x1="80.77" y1="235.35" x2="83.03" y2="234.05" stroke="#231f20" stroke-width="0.75"/>
<text transform="translate(16.80,263.20) rotate(-90) scale(0.8837,1)" font-size="8.8" text-anchor="middle" fill="#231f20" stroke="#231f20" stroke-width="0.1"><tspan>Number of colonies</tspan></text>
<text transform="translate(160.30,214.80) scale(0.8376,1)" font-size="8.5" text-anchor="middle" fill="#231f20" stroke="#231f20" stroke-width="0.1"><tspan>THP1</tspan></text>
<line x1="127.50" y1="219.50" x2="127.50" y2="308.65" stroke="#231f20" stroke-width="1.15"/>
<line x1="124.90" y1="221.70" x2="127.50" y2="221.70" stroke="#231f20" stroke-width="1.15"/>
<text transform="translate(120.60,224.70) scale(0.9000,1)" font-size="8.5" text-anchor="end" fill="#231f20" stroke="#231f20" stroke-width="0.1"><tspan>400</tspan></text>
<line x1="124.90" y1="243.30" x2="127.50" y2="243.30" stroke="#231f20" stroke-width="1.15"/>
<text transform="translate(120.60,246.30) scale(0.9000,1)" font-size="8.5" text-anchor="end" fill="#231f20" stroke="#231f20" stroke-width="0.1"><tspan>300</tspan></text>
<line x1="124.90" y1="264.90" x2="127.50" y2="264.90" stroke="#231f20" stroke-width="1.15"/>
<text transform="translate(120.60,267.90) scale(0.9000,1)" font-size="8.5" text-anchor="end" fill="#231f20" stroke="#231f20" stroke-width="0.1"><tspan>200</tspan></text>
<line x1="124.90" y1="286.50" x2="127.50" y2="286.50" stroke="#231f20" stroke-width="1.15"/>
<text transform="translate(120.60,289.50) scale(0.9000,1)" font-size="8.5" text-anchor="end" fill="#231f20" stroke="#231f20" stroke-width="0.1"><tspan>100</tspan></text>
<line x1="124.90" y1="308.10" x2="127.50" y2="308.10" stroke="#231f20" stroke-width="1.15"/>
<text transform="translate(120.60,311.10) scale(0.9000,1)" font-size="8.5" text-anchor="end" fill="#231f20" stroke="#231f20" stroke-width="0.1"><tspan>0</tspan></text>
<line x1="124.80" y1="308.10" x2="192.80" y2="308.10" stroke="#231f20" stroke-width="1.15"/>
<line x1="143.75" y1="308.10" x2="143.75" y2="310.70" stroke="#231f20" stroke-width="1.15"/>
<line x1="176.25" y1="308.10" x2="176.25" y2="310.70" stroke="#231f20" stroke-width="1.15"/>
<text transform="translate(143.75,321.70) scale(0.9294,1)" font-size="8.5" text-anchor="middle" fill="#231f20" stroke="#231f20" stroke-width="0.1"><tspan>DMSO</tspan></text>
<text transform="translate(176.50,321.70) scale(0.9508,1)" font-size="8.5" text-anchor="middle" fill="#231f20" stroke="#231f20" stroke-width="0.1"><tspan>CA-4948</tspan></text>
<rect x="133.10" y="257.34" width="9.00" height="50.76" fill="#808184"/>
<line x1="137.60" y1="239.00" x2="137.60" y2="273.50" stroke="#231f20" stroke-width="0.95"/>
<line x1="135.70" y1="239.00" x2="139.50" y2="239.00" stroke="#231f20" stroke-width="0.95"/>
<line x1="135.70" y1="273.50" x2="139.50" y2="273.50" stroke="#231f20" stroke-width="0.95"/>
<circle cx="138.00" cy="232.30" r="0.95" fill="#231f20"/>
<circle cx="138.00" cy="236.30" r="0.95" fill="#231f20"/>
<circle cx="134.50" cy="266.50" r="0.95" fill="#231f20"/>
<circle cx="141.50" cy="268.50" r="0.95" fill="#231f20"/>
<circle cx="134.00" cy="270.00" r="0.95" fill="#231f20"/>
<circle cx="138.00" cy="262.50" r="0.95" fill="#231f20"/>
<rect x="146.00" y="256.91" width="8.60" height="51.19" fill="#f0862e"/>
<line x1="150.30" y1="250.30" x2="150.30" y2="259.40" stroke="#231f20" stroke-width="0.95"/>
<line x1="148.40" y1="250.30" x2="152.20" y2="250.30" stroke="#231f20" stroke-width="0.95"/>
<line x1="148.40" y1="259.40" x2="152.20" y2="259.40" stroke="#231f20" stroke-width="0.95"/>
<circle cx="150.00" cy="246.20" r="0.95" fill="#231f20"/>
<circle cx="146.50" cy="256.50" r="0.95" fill="#231f20"/>
<circle cx="150.00" cy="255.00" r="0.95" fill="#231f20"/>
<circle cx="153.50" cy="256.50" r="0.95" fill="#231f20"/>
<circle cx="149.00" cy="262.00" r="0.95" fill="#231f20"/>
<circle cx="153.00" cy="261.00" r="0.95" fill="#231f20"/>
<rect x="166.30" y="267.49" width="8.50" height="40.61" fill="#808184"/>
<line x1="170.55" y1="250.00" x2="170.55" y2="283.80" stroke="#231f20" stroke-width="0.95"/>
<line x1="168.65" y1="250.00" x2="172.45" y2="250.00" stroke="#231f20" stroke-width="0.95"/>
<line x1="168.65" y1="283.80" x2="172.45" y2="283.80" stroke="#231f20" stroke-width="0.95"/>
<circle cx="170.00" cy="244.80" r="0.95" fill="#231f20"/>
<circle cx="170.00" cy="253.00" r="0.95" fill="#231f20"/>
<circle cx="170.00" cy="260.80" r="0.95" fill="#231f20"/>
<circle cx="170.00" cy="277.50" r="0.95" fill="#231f20"/>
<circle cx="166.80" cy="284.00" r="0.95" fill="#231f20"/>
<circle cx="173.50" cy="281.30" r="0.95" fill="#231f20"/>
<rect x="178.50" y="282.40" width="8.40" height="25.70" fill="#f0862e"/>
<line x1="182.70" y1="277.30" x2="182.70" y2="285.00" stroke="#231f20" stroke-width="0.95"/>
<line x1="180.80" y1="277.30" x2="184.60" y2="277.30" stroke="#231f20" stroke-width="0.95"/>
<line x1="180.80" y1="285.00" x2="184.60" y2="285.00" stroke="#231f20" stroke-width="0.95"/>
<circle cx="183.00" cy="277.00" r="0.95" fill="#231f20"/>
<circle cx="179.50" cy="282.00" r="0.95" fill="#231f20"/>
<circle cx="183.00" cy="280.50" r="0.95" fill="#231f20"/>
<circle cx="186.50" cy="281.50" r="0.95" fill="#231f20"/>
<circle cx="183.00" cy="283.50" r="0.95" fill="#231f20"/>
<line x1="150.60" y1="237.50" x2="185.00" y2="237.50" stroke="#3a3a3a" stroke-width="1.0"/>
<line x1="167.50" y1="231.80" x2="167.50" y2="234.40" stroke="#231f20" stroke-width="0.75"/>
<line x1="166.37" y1="232.45" x2="168.63" y2="233.75" stroke="#231f20" stroke-width="0.75"/>
<line x1="166.37" y1="233.75" x2="168.63" y2="232.45" stroke="#231f20" stroke-width="0.75"/>
<text transform="translate(208.90,191.00)" font-size="11" text-anchor="start" fill="#231f20" font-weight="bold"><tspan>C</tspan></text>
<rect x="282.30" y="199.40" width="5.80" height="5.30" fill="#808184"/>
<text transform="translate(291.90,205.00) scale(0.8475,1)" font-size="8.5" text-anchor="start" fill="#231f20" stroke="#231f20" stroke-width="0.1"><tspan>WT</tspan></text>
<rect x="313.50" y="199.40" width="6.20" height="5.30" fill="#f0862e"/>
<text transform="translate(323.80,205.00) scale(0.8658,1)" font-size="8.5" text-anchor="start" fill="#231f20" stroke="#231f20" stroke-width="0.1"><tspan>IRAK1</tspan><tspan font-size="4.42" dy="-2.55">KO</tspan></text>
<text transform="translate(274.40,216.50) scale(0.9019,1)" font-size="8.5" text-anchor="middle" fill="#231f20" stroke="#231f20" stroke-width="0.1"><tspan>MDSL</tspan></text>
<line x1="242.25" y1="220.00" x2="242.25" y2="308.65" stroke="#231f20" stroke-width="1.15"/>
<line x1="239.65" y1="222.50" x2="242.25" y2="222.50" stroke="#231f20" stroke-width="1.15"/>
<text transform="translate(236.30,225.50) scale(0.9000,1)" font-size="8.5" text-anchor="end" fill="#231f20" stroke="#231f20" stroke-width="0.1"><tspan>200</tspan></text>
<line x1="239.65" y1="243.90" x2="242.25" y2="243.90" stroke="#231f20" stroke-width="1.15"/>
<text transform="translate(236.30,246.90) scale(0.9000,1)" font-size="8.5" text-anchor="end" fill="#231f20" stroke="#231f20" stroke-width="0.1"><tspan>150</tspan></text>
<line x1="239.65" y1="265.30" x2="242.25" y2="265.30" stroke="#231f20" stroke-width="1.15"/>
<text transform="translate(236.30,268.30) scale(0.9000,1)" font-size="8.5" text-anchor="end" fill="#231f20" stroke="#231f20" stroke-width="0.1"><tspan>100</tspan></text>
<line x1="239.65" y1="286.70" x2="242.25" y2="286.70" stroke="#231f20" stroke-width="1.15"/>
<text transform="translate(236.30,289.70) scale(0.9000,1)" font-size="8.5" text-anchor="end" fill="#231f20" stroke="#231f20" stroke-width="0.1"><tspan>50</tspan></text>
<line x1="239.65" y1="308.10" x2="242.25" y2="308.10" stroke="#231f20" stroke-width="1.15"/>
<text transform="translate(236.30,311.10) scale(0.9000,1)" font-size="8.5" text-anchor="end" fill="#231f20" stroke="#231f20" stroke-width="0.1"><tspan>0</tspan></text>
<line x1="239.60" y1="308.10" x2="306.50" y2="308.10" stroke="#231f20" stroke-width="1.15"/>
<line x1="258.50" y1="308.10" x2="258.50" y2="310.70" stroke="#231f20" stroke-width="1.15"/>
<line x1="290.60" y1="308.10" x2="290.60" y2="310.70" stroke="#231f20" stroke-width="1.15"/>
<text transform="translate(258.40,321.00) scale(0.9529,1)" font-size="8.5" text-anchor="middle" fill="#231f20" stroke="#231f20" stroke-width="0.1"><tspan>DMSO</tspan></text>
<text transform="translate(290.30,321.00) scale(0.8914,1)" font-size="8.5" text-anchor="middle" fill="#231f20" stroke="#231f20" stroke-width="0.1"><tspan>IRAK4</tspan></text>
<text transform="translate(290.10,331.00) scale(0.9571,1)" font-size="8.5" text-anchor="middle" fill="#231f20" stroke="#231f20" stroke-width="0.1"><tspan>degrader-1</tspan></text>
<rect x="248.10" y="248.18" width="8.50" height="59.92" fill="#808184"/>
<line x1="252.35" y1="242.50" x2="252.35" y2="252.50" stroke="#231f20" stroke-width="0.95"/>
<line x1="250.45" y1="242.50" x2="254.25" y2="242.50" stroke="#231f20" stroke-width="0.95"/>
<line x1="250.45" y1="252.50" x2="254.25" y2="252.50" stroke="#231f20" stroke-width="0.95"/>
<circle cx="252.00" cy="235.00" r="0.95" fill="#231f20"/>
<circle cx="252.00" cy="238.50" r="0.95" fill="#231f20"/>
<circle cx="248.80" cy="255.50" r="0.95" fill="#231f20"/>
<circle cx="255.50" cy="255.50" r="0.95" fill="#231f20"/>
<circle cx="252.00" cy="252.00" r="0.95" fill="#231f20"/>
<rect x="260.00" y="259.74" width="9.00" height="48.36" fill="#f0862e"/>
<line x1="264.50" y1="254.40" x2="264.50" y2="263.00" stroke="#231f20" stroke-width="0.95"/>
<line x1="262.60" y1="254.40" x2="266.40" y2="254.40" stroke="#231f20" stroke-width="0.95"/>
<line x1="262.60" y1="263.00" x2="266.40" y2="263.00" stroke="#231f20" stroke-width="0.95"/>
<circle cx="261.00" cy="250.00" r="0.95" fill="#231f20"/>
<circle cx="268.50" cy="250.50" r="0.95" fill="#231f20"/>
<circle cx="261.00" cy="270.00" r="0.95" fill="#231f20"/>
<circle cx="268.00" cy="267.50" r="0.95" fill="#231f20"/>
<rect x="280.30" y="269.15" width="8.50" height="38.95" fill="#808184"/>
<line x1="284.55" y1="263.80" x2="284.55" y2="271.90" stroke="#231f20" stroke-width="0.95"/>
<line x1="282.65" y1="263.80" x2="286.45" y2="263.80" stroke="#231f20" stroke-width="0.95"/>
<line x1="282.65" y1="271.90" x2="286.45" y2="271.90" stroke="#231f20" stroke-width="0.95"/>
<circle cx="280.80" cy="260.00" r="0.95" fill="#231f20"/>
<circle cx="287.80" cy="260.50" r="0.95" fill="#231f20"/>
<circle cx="280.80" cy="263.00" r="0.95" fill="#231f20"/>
<circle cx="280.80" cy="278.50" r="0.95" fill="#231f20"/>
<circle cx="287.50" cy="278.50" r="0.95" fill="#231f20"/>
<rect x="292.30" y="298.26" width="8.70" height="9.84" fill="#f0862e"/>
<line x1="296.65" y1="294.00" x2="296.65" y2="300.00" stroke="#231f20" stroke-width="0.95"/>
<line x1="294.75" y1="294.00" x2="298.55" y2="294.00" stroke="#231f20" stroke-width="0.95"/>
<line x1="294.75" y1="300.00" x2="298.55" y2="300.00" stroke="#231f20" stroke-width="0.95"/>
<circle cx="296.50" cy="288.00" r="0.95" fill="#231f20"/>
<circle cx="293.00" cy="297.00" r="0.95" fill="#231f20"/>
<circle cx="300.00" cy="299.00" r="0.95" fill="#231f20"/>
<circle cx="293.50" cy="301.00" r="0.95" fill="#231f20"/>
<circle cx="296.50" cy="300.50" r="0.95" fill="#231f20"/>
<line x1="263.80" y1="243.40" x2="296.90" y2="243.40" stroke="#3a3a3a" stroke-width="1.0"/>
<line x1="280.00" y1="238.10" x2="280.00" y2="240.70" stroke="#231f20" stroke-width="0.75"/>
<line x1="278.87" y1="238.75" x2="281.13" y2="240.05" stroke="#231f20" stroke-width="0.75"/>
<line x1="278.87" y1="240.05" x2="281.13" y2="238.75" stroke="#231f20" stroke-width="0.75"/>
<text transform="translate(217.00,263.70) rotate(-90) scale(0.8837,1)" font-size="8.8" text-anchor="middle" fill="#231f20" stroke="#231f20" stroke-width="0.1"><tspan>Number of colonies</tspan></text>
<text transform="translate(360.00,216.30) scale(0.8376,1)" font-size="8.5" text-anchor="middle" fill="#231f20" stroke="#231f20" stroke-width="0.1"><tspan>THP1</tspan></text>
<line x1="327.25" y1="221.00" x2="327.25" y2="308.65" stroke="#231f20" stroke-width="1.15"/>
<line x1="324.65" y1="223.30" x2="327.25" y2="223.30" stroke="#231f20" stroke-width="1.15"/>
<text transform="translate(320.60,226.30) scale(0.9000,1)" font-size="8.5" text-anchor="end" fill="#231f20" stroke="#231f20" stroke-width="0.1"><tspan>400</tspan></text>
<line x1="324.65" y1="244.50" x2="327.25" y2="244.50" stroke="#231f20" stroke-width="1.15"/>
<text transform="translate(320.60,247.50) scale(0.9000,1)" font-size="8.5" text-anchor="end" fill="#231f20" stroke="#231f20" stroke-width="0.1"><tspan>300</tspan></text>
<line x1="324.65" y1="265.70" x2="327.25" y2="265.70" stroke="#231f20" stroke-width="1.15"/>
<text transform="translate(320.60,268.70) scale(0.9000,1)" font-size="8.5" text-anchor="end" fill="#231f20" stroke="#231f20" stroke-width="0.1"><tspan>200</tspan></text>
<line x1="324.65" y1="286.90" x2="327.25" y2="286.90" stroke="#231f20" stroke-width="1.15"/>
<text transform="translate(320.60,289.90) scale(0.9000,1)" font-size="8.5" text-anchor="end" fill="#231f20" stroke="#231f20" stroke-width="0.1"><tspan>100</tspan></text>
<line x1="324.65" y1="308.10" x2="327.25" y2="308.10" stroke="#231f20" stroke-width="1.15"/>
<text transform="translate(320.60,311.10) scale(0.9000,1)" font-size="8.5" text-anchor="end" fill="#231f20" stroke="#231f20" stroke-width="0.1"><tspan>0</tspan></text>
<line x1="324.60" y1="308.10" x2="392.50" y2="308.10" stroke="#231f20" stroke-width="1.15"/>
<line x1="345.60" y1="308.10" x2="345.60" y2="310.70" stroke="#231f20" stroke-width="1.15"/>
<line x1="376.90" y1="308.10" x2="376.90" y2="310.70" stroke="#231f20" stroke-width="1.15"/>
<text transform="translate(345.50,321.00) scale(0.9529,1)" font-size="8.5" text-anchor="middle" fill="#231f20" stroke="#231f20" stroke-width="0.1"><tspan>DMSO</tspan></text>
<text transform="translate(377.20,321.00) scale(0.8914,1)" font-size="8.5" text-anchor="middle" fill="#231f20" stroke="#231f20" stroke-width="0.1"><tspan>IRAK4</tspan></text>
<text transform="translate(375.60,331.00) scale(0.8729,1)" font-size="8.5" text-anchor="middle" fill="#231f20" stroke="#231f20" stroke-width="0.1"><tspan>degrader-1</tspan></text>
<rect x="332.50" y="248.95" width="8.10" height="59.15" fill="#808184"/>
<line x1="336.55" y1="244.40" x2="336.55" y2="252.30" stroke="#231f20" stroke-width="0.95"/>
<line x1="334.55" y1="244.40" x2="338.55" y2="244.40" stroke="#231f20" stroke-width="0.95"/>
<line x1="334.55" y1="252.30" x2="338.55" y2="252.30" stroke="#231f20" stroke-width="0.95"/>
<rect x="344.40" y="253.40" width="8.70" height="54.70" fill="#f0862e"/>
<circle cx="345.50" cy="253.00" r="0.95" fill="#231f20"/>
<circle cx="352.50" cy="253.00" r="0.95" fill="#231f20"/>
<rect x="364.40" y="268.03" width="8.30" height="40.07" fill="#808184"/>
<line x1="368.55" y1="263.80" x2="368.55" y2="271.30" stroke="#231f20" stroke-width="0.95"/>
<line x1="366.55" y1="263.80" x2="370.55" y2="263.80" stroke="#231f20" stroke-width="0.95"/>
<line x1="366.55" y1="271.30" x2="370.55" y2="271.30" stroke="#231f20" stroke-width="0.95"/>
<rect x="376.30" y="283.08" width="8.10" height="25.02" fill="#f0862e"/>
<line x1="380.35" y1="276.00" x2="380.35" y2="289.40" stroke="#231f20" stroke-width="0.95"/>
<line x1="378.35" y1="276.00" x2="382.35" y2="276.00" stroke="#231f20" stroke-width="0.95"/>
<line x1="378.35" y1="289.40" x2="382.35" y2="289.40" stroke="#231f20" stroke-width="0.95"/>
<line x1="348.50" y1="246.90" x2="381.50" y2="246.90" stroke="#3a3a3a" stroke-width="1.0"/>
<line x1="365.00" y1="241.20" x2="365.00" y2="243.80" stroke="#231f20" stroke-width="0.75"/>
<line x1="363.87" y1="241.85" x2="366.13" y2="243.15" stroke="#231f20" stroke-width="0.75"/>
<line x1="363.87" y1="243.15" x2="366.13" y2="241.85" stroke="#231f20" stroke-width="0.75"/>
<text transform="translate(397.60,224.80)" font-size="11" text-anchor="start" fill="#231f20" font-weight="bold"><tspan>G</tspan></text>
<text transform="translate(446.90,237.80) scale(0.8871,1)" font-size="8.5" text-anchor="middle" fill="#231f20" stroke="#231f20" stroke-width="0.1"><tspan>IRAK</tspan></text>
<line x1="409.40" y1="241.20" x2="481.30" y2="241.20" stroke="#444" stroke-width="1.3"/>
<text transform="translate(423.20,251.50) scale(0.8702,1)" font-size="8.5" text-anchor="middle" fill="#231f20" stroke="#231f20" stroke-width="0.1"><tspan>WT</tspan></text>
<text transform="translate(433.10,251.50) scale(1.0708,1)" font-size="8.5" text-anchor="start" fill="#231f20" stroke="#231f20" stroke-width="0.1"><tspan>4</tspan><tspan font-size="4.42" dy="-2.55">KO</tspan></text>
<text transform="translate(449.20,251.50) scale(0.9178,1)" font-size="8.5" text-anchor="start" fill="#231f20" stroke="#231f20" stroke-width="0.1"><tspan>1</tspan><tspan font-size="4.42" dy="-2.55">KO</tspan></text>
<text transform="translate(461.90,251.50) scale(1.0261,1)" font-size="8.5" text-anchor="start" fill="#231f20" stroke="#231f20" stroke-width="0.1"><tspan>1/4</tspan><tspan font-size="4.42" dy="-2.55">dKO</tspan></text>
<rect x="409.80" y="254.40" width="71.50" height="15.40" fill="#d4d4d4" stroke="#6a6a6a" stroke-width="0.9"/>
<rect x="409.80" y="272.00" width="71.50" height="16.70" fill="#bdbdbd" stroke="#6a6a6a" stroke-width="0.9"/>
<rect x="409.80" y="291.30" width="71.50" height="16.80" fill="#e0e0e0" stroke="#6a6a6a" stroke-width="0.9"/>
<rect x="416.90" y="261.30" width="15.60" height="4.60" rx="1.77" fill="#5a5a5a" opacity="0.9" filter="url(#bl)"/>
<rect x="434.00" y="261.20" width="11.50" height="4.40" rx="1.69" fill="#5a5a5a" opacity="0.9" filter="url(#bl)"/>
<rect x="415.00" y="278.90" width="15.60" height="5.00" rx="1.92" fill="#080808" opacity="1.0" filter="url(#bl)"/>
<rect x="447.30" y="278.20" width="14.00" height="4.80" rx="1.85" fill="#080808" opacity="1.0" filter="url(#bl)"/>
<rect x="433.00" y="279.60" width="13.00" height="3.40" rx="1.31" fill="#999" opacity="0.25" filter="url(#bl)"/>
<rect x="463.00" y="279.60" width="14.00" height="3.40" rx="1.31" fill="#999" opacity="0.25" filter="url(#bl)"/>
<rect x="415.00" y="297.90" width="16.00" height="3.80" rx="1.46" fill="#080808" opacity="1.0" filter="url(#bl)"/>
<rect x="432.50" y="298.00" width="13.50" height="3.60" rx="1.38" fill="#111" opacity="1.0" filter="url(#bl)"/>
<rect x="447.00" y="297.90" width="15.00" height="3.40" rx="1.31" fill="#111" opacity="1.0" filter="url(#bl)"/>
<rect x="463.00" y="298.00" width="15.50" height="2.80" rx="1.08" fill="#222" opacity="1.0" filter="url(#bl)"/>
<text transform="translate(483.80,264.80) scale(0.8874,1)" font-size="8.5" text-anchor="start" fill="#231f20" stroke="#231f20" stroke-width="0.1"><tspan>IRAK1</tspan></text>
<text transform="translate(483.80,284.00) scale(0.9118,1)" font-size="8.5" text-anchor="start" fill="#231f20" stroke="#231f20" stroke-width="0.1"><tspan>IRAK4</tspan></text>
<text transform="translate(483.80,302.60) scale(0.9395,1)" font-size="8.5" text-anchor="start" fill="#231f20" stroke="#231f20" stroke-width="0.1"><tspan>GAPDH</tspan></text>
<text transform="translate(448.20,318.10) scale(0.8514,1)" font-size="8.5" text-anchor="middle" fill="#231f20" stroke="#231f20" stroke-width="0.1"><tspan>THP1</tspan></text>
<text transform="translate(8.90,343.80)" font-size="11" text-anchor="start" fill="#231f20" font-weight="bold"><tspan>E</tspan></text>
<text transform="translate(70.60,356.80) scale(0.9019,1)" font-size="8.5" text-anchor="middle" fill="#231f20" stroke="#231f20" stroke-width="0.1"><tspan>MDSL</tspan></text>
<line x1="40.25" y1="360.00" x2="40.25" y2="436.80" stroke="#231f20" stroke-width="1.15"/>
<line x1="37.65" y1="363.49" x2="40.25" y2="363.49" stroke="#231f20" stroke-width="1.15"/>
<text transform="translate(35.95,366.49) scale(0.9000,1)" font-size="8.5" text-anchor="end" fill="#231f20" stroke="#231f20" stroke-width="0.1"><tspan>200</tspan></text>
<line x1="37.65" y1="381.68" x2="40.25" y2="381.68" stroke="#231f20" stroke-width="1.15"/>
<text transform="translate(35.95,384.68) scale(0.9000,1)" font-size="8.5" text-anchor="end" fill="#231f20" stroke="#231f20" stroke-width="0.1"><tspan>150</tspan></text>
<line x1="37.65" y1="399.87" x2="40.25" y2="399.87" stroke="#231f20" stroke-width="1.15"/>
<text transform="translate(35.95,402.87) scale(0.9000,1)" font-size="8.5" text-anchor="end" fill="#231f20" stroke="#231f20" stroke-width="0.1"><tspan>100</tspan></text>
<line x1="37.65" y1="418.06" x2="40.25" y2="418.06" stroke="#231f20" stroke-width="1.15"/>
<text transform="translate(35.95,421.06) scale(0.9000,1)" font-size="8.5" text-anchor="end" fill="#231f20" stroke="#231f20" stroke-width="0.1"><tspan>50</tspan></text>
<line x1="37.65" y1="436.25" x2="40.25" y2="436.25" stroke="#231f20" stroke-width="1.15"/>
<text transform="translate(35.95,439.25) scale(0.9000,1)" font-size="8.5" text-anchor="end" fill="#231f20" stroke="#231f20" stroke-width="0.1"><tspan>0</tspan></text>
<line x1="37.60" y1="436.25" x2="100.40" y2="436.25" stroke="#231f20" stroke-width="1.15"/>
<line x1="55.00" y1="436.25" x2="55.00" y2="438.85" stroke="#231f20" stroke-width="1.15"/>
<line x1="85.60" y1="436.25" x2="85.60" y2="438.85" stroke="#231f20" stroke-width="1.15"/>
<rect x="45.30" y="380.95" width="8.70" height="55.30" fill="#808184"/>
<line x1="49.65" y1="377.30" x2="49.65" y2="384.40" stroke="#231f20" stroke-width="0.95"/>
<line x1="47.85" y1="377.30" x2="51.45" y2="377.30" stroke="#231f20" stroke-width="0.95"/>
<line x1="47.85" y1="384.40" x2="51.45" y2="384.40" stroke="#231f20" stroke-width="0.95"/>
<rect x="57.30" y="404.96" width="8.00" height="31.29" fill="#e8291c"/>
<line x1="61.30" y1="401.30" x2="61.30" y2="405.30" stroke="#231f20" stroke-width="0.95"/>
<line x1="59.50" y1="401.30" x2="63.10" y2="401.30" stroke="#231f20" stroke-width="0.95"/>
<line x1="59.50" y1="405.30" x2="63.10" y2="405.30" stroke="#231f20" stroke-width="0.95"/>
<circle cx="61.00" cy="402.00" r="0.85" fill="#231f20"/>
<circle cx="61.00" cy="406.00" r="0.85" fill="#231f20"/>
<rect x="76.30" y="415.88" width="7.50" height="20.37" fill="#808184"/>
<line x1="80.05" y1="413.50" x2="80.05" y2="417.50" stroke="#231f20" stroke-width="0.95"/>
<line x1="78.25" y1="413.50" x2="81.85" y2="413.50" stroke="#231f20" stroke-width="0.95"/>
<line x1="78.25" y1="417.50" x2="81.85" y2="417.50" stroke="#231f20" stroke-width="0.95"/>
<rect x="87.30" y="434.43" width="8.30" height="1.82" fill="#e8291c"/>
<line x1="91.45" y1="433.50" x2="91.45" y2="435.50" stroke="#231f20" stroke-width="0.95"/>
<line x1="89.65" y1="433.50" x2="93.25" y2="433.50" stroke="#231f20" stroke-width="0.95"/>
<line x1="89.65" y1="435.50" x2="93.25" y2="435.50" stroke="#231f20" stroke-width="0.95"/>
<circle cx="89.00" cy="435.00" r="0.85" fill="#231f20"/>
<circle cx="91.50" cy="435.00" r="0.85" fill="#231f20"/>
<circle cx="94.00" cy="435.00" r="0.85" fill="#231f20"/>
<line x1="60.60" y1="396.50" x2="90.60" y2="396.50" stroke="#3a3a3a" stroke-width="1.0"/>
<line x1="75.30" y1="391.00" x2="75.30" y2="393.60" stroke="#231f20" stroke-width="0.75"/>
<line x1="74.17" y1="391.65" x2="76.43" y2="392.95" stroke="#231f20" stroke-width="0.75"/>
<line x1="74.17" y1="392.95" x2="76.43" y2="391.65" stroke="#231f20" stroke-width="0.75"/>
<text transform="translate(60.00,442.85) rotate(-45) scale(1.0431,1)" font-size="8.4" text-anchor="end" fill="#231f20" stroke="#231f20" stroke-width="0.1"><tspan>shControl</tspan></text>
<text transform="translate(90.20,442.85) rotate(-45) scale(0.9653,1)" font-size="8.4" text-anchor="end" fill="#231f20" stroke="#231f20" stroke-width="0.1"><tspan>shIRAK1</tspan></text>
<text transform="translate(147.80,356.80) scale(0.8376,1)" font-size="8.5" text-anchor="middle" fill="#231f20" stroke="#231f20" stroke-width="0.1"><tspan>THP1</tspan></text>
<line x1="118.10" y1="360.00" x2="118.10" y2="436.80" stroke="#231f20" stroke-width="1.15"/>
<line x1="115.50" y1="363.49" x2="118.10" y2="363.49" stroke="#231f20" stroke-width="1.15"/>
<text transform="translate(113.80,366.49) scale(0.9000,1)" font-size="8.5" text-anchor="end" fill="#231f20" stroke="#231f20" stroke-width="0.1"><tspan>40</tspan></text>
<line x1="115.50" y1="381.68" x2="118.10" y2="381.68" stroke="#231f20" stroke-width="1.15"/>
<text transform="translate(113.80,384.68) scale(0.9000,1)" font-size="8.5" text-anchor="end" fill="#231f20" stroke="#231f20" stroke-width="0.1"><tspan>30</tspan></text>
<line x1="115.50" y1="399.87" x2="118.10" y2="399.87" stroke="#231f20" stroke-width="1.15"/>
<text transform="translate(113.80,402.87) scale(0.9000,1)" font-size="8.5" text-anchor="end" fill="#231f20" stroke="#231f20" stroke-width="0.1"><tspan>20</tspan></text>
<line x1="115.50" y1="418.06" x2="118.10" y2="418.06" stroke="#231f20" stroke-width="1.15"/>
<text transform="translate(113.80,421.06) scale(0.9000,1)" font-size="8.5" text-anchor="end" fill="#231f20" stroke="#231f20" stroke-width="0.1"><tspan>10</tspan></text>
<line x1="115.50" y1="436.25" x2="118.10" y2="436.25" stroke="#231f20" stroke-width="1.15"/>
<text transform="translate(113.80,439.25) scale(0.9000,1)" font-size="8.5" text-anchor="end" fill="#231f20" stroke="#231f20" stroke-width="0.1"><tspan>0</tspan></text>
<line x1="115.50" y1="436.25" x2="178.50" y2="436.25" stroke="#231f20" stroke-width="1.15"/>
<line x1="132.50" y1="436.25" x2="132.50" y2="438.85" stroke="#231f20" stroke-width="1.15"/>
<line x1="162.80" y1="436.25" x2="162.80" y2="438.85" stroke="#231f20" stroke-width="1.15"/>
<rect x="123.10" y="381.13" width="8.20" height="55.12" fill="#808184"/>
<line x1="127.20" y1="372.30" x2="127.20" y2="391.00" stroke="#231f20" stroke-width="0.95"/>
<line x1="125.40" y1="372.30" x2="129.00" y2="372.30" stroke="#231f20" stroke-width="0.95"/>
<line x1="125.40" y1="391.00" x2="129.00" y2="391.00" stroke="#231f20" stroke-width="0.95"/>
<circle cx="127.50" cy="374.50" r="0.85" fill="#231f20"/>
<circle cx="127.50" cy="378.00" r="0.85" fill="#231f20"/>
<circle cx="127.20" cy="390.50" r="0.85" fill="#231f20"/>
<circle cx="129.50" cy="384.00" r="0.85" fill="#231f20"/>
<rect x="135.00" y="401.69" width="8.00" height="34.56" fill="#e8291c"/>
<line x1="139.00" y1="381.30" x2="139.00" y2="421.50" stroke="#231f20" stroke-width="0.95"/>
<line x1="137.20" y1="381.30" x2="140.80" y2="381.30" stroke="#231f20" stroke-width="0.95"/>
<line x1="137.20" y1="421.50" x2="140.80" y2="421.50" stroke="#231f20" stroke-width="0.95"/>
<circle cx="139.00" cy="378.00" r="0.85" fill="#231f20"/>
<circle cx="137.00" cy="412.70" r="0.85" fill="#231f20"/>
<circle cx="141.00" cy="412.70" r="0.85" fill="#231f20"/>
<rect x="153.10" y="411.69" width="8.40" height="24.56" fill="#808184"/>
<line x1="157.30" y1="407.30" x2="157.30" y2="416.30" stroke="#231f20" stroke-width="0.95"/>
<line x1="155.50" y1="407.30" x2="159.10" y2="407.30" stroke="#231f20" stroke-width="0.95"/>
<line x1="155.50" y1="416.30" x2="159.10" y2="416.30" stroke="#231f20" stroke-width="0.95"/>
<rect x="165.00" y="427.15" width="8.10" height="9.10" fill="#e8291c"/>
<line x1="169.05" y1="422.30" x2="169.05" y2="430.60" stroke="#231f20" stroke-width="0.95"/>
<line x1="167.25" y1="422.30" x2="170.85" y2="422.30" stroke="#231f20" stroke-width="0.95"/>
<line x1="167.25" y1="430.60" x2="170.85" y2="430.60" stroke="#231f20" stroke-width="0.95"/>
<line x1="139.40" y1="373.40" x2="168.80" y2="373.40" stroke="#3a3a3a" stroke-width="1.0"/>
<line x1="154.00" y1="367.90" x2="154.00" y2="370.50" stroke="#231f20" stroke-width="0.75"/>
<line x1="152.87" y1="368.55" x2="155.13" y2="369.85" stroke="#231f20" stroke-width="0.75"/>
<line x1="152.87" y1="369.85" x2="155.13" y2="368.55" stroke="#231f20" stroke-width="0.75"/>
<text transform="translate(137.50,442.85) rotate(-45) scale(1.0431,1)" font-size="8.4" text-anchor="end" fill="#231f20" stroke="#231f20" stroke-width="0.1"><tspan>shControl</tspan></text>
<text transform="translate(167.40,442.85) rotate(-45) scale(0.9653,1)" font-size="8.4" text-anchor="end" fill="#231f20" stroke="#231f20" stroke-width="0.1"><tspan>shIRAK1</tspan></text>
<text transform="translate(226.00,356.80) scale(0.9218,1)" font-size="8.5" text-anchor="middle" fill="#231f20" stroke="#231f20" stroke-width="0.1"><tspan>OCIAML3</tspan></text>
<line x1="196.25" y1="360.00" x2="196.25" y2="436.80" stroke="#231f20" stroke-width="1.15"/>
<line x1="193.65" y1="363.49" x2="196.25" y2="363.49" stroke="#231f20" stroke-width="1.15"/>
<text transform="translate(191.95,366.49) scale(0.9000,1)" font-size="8.5" text-anchor="end" fill="#231f20" stroke="#231f20" stroke-width="0.1"><tspan>400</tspan></text>
<line x1="193.65" y1="381.68" x2="196.25" y2="381.68" stroke="#231f20" stroke-width="1.15"/>
<text transform="translate(191.95,384.68) scale(0.9000,1)" font-size="8.5" text-anchor="end" fill="#231f20" stroke="#231f20" stroke-width="0.1"><tspan>300</tspan></text>
<line x1="193.65" y1="399.87" x2="196.25" y2="399.87" stroke="#231f20" stroke-width="1.15"/>
<text transform="translate(191.95,402.87) scale(0.9000,1)" font-size="8.5" text-anchor="end" fill="#231f20" stroke="#231f20" stroke-width="0.1"><tspan>200</tspan></text>
<line x1="193.65" y1="418.06" x2="196.25" y2="418.06" stroke="#231f20" stroke-width="1.15"/>
<text transform="translate(191.95,421.06) scale(0.9000,1)" font-size="8.5" text-anchor="end" fill="#231f20" stroke="#231f20" stroke-width="0.1"><tspan>100</tspan></text>
<line x1="193.65" y1="436.25" x2="196.25" y2="436.25" stroke="#231f20" stroke-width="1.15"/>
<text transform="translate(191.95,439.25) scale(0.9000,1)" font-size="8.5" text-anchor="end" fill="#231f20" stroke="#231f20" stroke-width="0.1"><tspan>0</tspan></text>
<line x1="193.50" y1="436.25" x2="256.80" y2="436.25" stroke="#231f20" stroke-width="1.15"/>
<line x1="211.30" y1="436.25" x2="211.30" y2="438.85" stroke="#231f20" stroke-width="1.15"/>
<line x1="241.30" y1="436.25" x2="241.30" y2="438.85" stroke="#231f20" stroke-width="1.15"/>
<rect x="201.90" y="396.41" width="8.10" height="39.84" fill="#808184"/>
<line x1="205.95" y1="390.30" x2="205.95" y2="403.50" stroke="#231f20" stroke-width="0.95"/>
<line x1="204.15" y1="390.30" x2="207.75" y2="390.30" stroke="#231f20" stroke-width="0.95"/>
<line x1="204.15" y1="403.50" x2="207.75" y2="403.50" stroke="#231f20" stroke-width="0.95"/>
<circle cx="205.80" cy="387.50" r="0.85" fill="#231f20"/>
<circle cx="203.50" cy="398.00" r="0.85" fill="#231f20"/>
<circle cx="208.00" cy="397.00" r="0.85" fill="#231f20"/>
<circle cx="205.80" cy="402.50" r="0.85" fill="#231f20"/>
<rect x="213.10" y="392.23" width="8.40" height="44.02" fill="#e8291c"/>
<line x1="217.30" y1="381.00" x2="217.30" y2="403.50" stroke="#231f20" stroke-width="0.95"/>
<line x1="215.50" y1="381.00" x2="219.10" y2="381.00" stroke="#231f20" stroke-width="0.95"/>
<line x1="215.50" y1="403.50" x2="219.10" y2="403.50" stroke="#231f20" stroke-width="0.95"/>
<circle cx="217.00" cy="376.80" r="0.85" fill="#231f20"/>
<circle cx="215.50" cy="394.00" r="0.85" fill="#231f20"/>
<circle cx="219.50" cy="396.00" r="0.85" fill="#231f20"/>
<circle cx="217.00" cy="401.00" r="0.85" fill="#231f20"/>
<rect x="232.30" y="403.87" width="7.70" height="32.38" fill="#808184"/>
<line x1="236.15" y1="401.30" x2="236.15" y2="407.00" stroke="#231f20" stroke-width="0.95"/>
<line x1="234.35" y1="401.30" x2="237.95" y2="401.30" stroke="#231f20" stroke-width="0.95"/>
<line x1="234.35" y1="407.00" x2="237.95" y2="407.00" stroke="#231f20" stroke-width="0.95"/>
<circle cx="234.00" cy="402.50" r="0.85" fill="#231f20"/>
<circle cx="238.00" cy="403.50" r="0.85" fill="#231f20"/>
<circle cx="236.00" cy="406.00" r="0.85" fill="#231f20"/>
<rect x="243.50" y="406.42" width="8.40" height="29.83" fill="#e8291c"/>
<line x1="247.70" y1="400.00" x2="247.70" y2="411.30" stroke="#231f20" stroke-width="0.95"/>
<line x1="245.90" y1="400.00" x2="249.50" y2="400.00" stroke="#231f20" stroke-width="0.95"/>
<line x1="245.90" y1="411.30" x2="249.50" y2="411.30" stroke="#231f20" stroke-width="0.95"/>
<circle cx="247.50" cy="401.00" r="0.85" fill="#231f20"/>
<circle cx="245.00" cy="405.00" r="0.85" fill="#231f20"/>
<circle cx="250.50" cy="405.00" r="0.85" fill="#231f20"/>
<circle cx="247.00" cy="411.00" r="0.85" fill="#231f20"/>
<circle cx="250.00" cy="411.00" r="0.85" fill="#231f20"/>
<text transform="translate(216.30,442.85) rotate(-45) scale(1.0431,1)" font-size="8.4" text-anchor="end" fill="#231f20" stroke="#231f20" stroke-width="0.1"><tspan>shControl</tspan></text>
<text transform="translate(245.90,442.85) rotate(-45) scale(0.9653,1)" font-size="8.4" text-anchor="end" fill="#231f20" stroke="#231f20" stroke-width="0.1"><tspan>shIRAK1</tspan></text>
<text transform="translate(303.90,356.80) scale(0.9299,1)" font-size="8.5" text-anchor="middle" fill="#231f20" stroke="#231f20" stroke-width="0.1"><tspan>AML(1294)</tspan></text>
<line x1="273.50" y1="360.00" x2="273.50" y2="436.80" stroke="#231f20" stroke-width="1.15"/>
<line x1="270.90" y1="363.49" x2="273.50" y2="363.49" stroke="#231f20" stroke-width="1.15"/>
<text transform="translate(269.20,366.49) scale(0.9000,1)" font-size="8.5" text-anchor="end" fill="#231f20" stroke="#231f20" stroke-width="0.1"><tspan>40</tspan></text>
<line x1="270.90" y1="381.68" x2="273.50" y2="381.68" stroke="#231f20" stroke-width="1.15"/>
<text transform="translate(269.20,384.68) scale(0.9000,1)" font-size="8.5" text-anchor="end" fill="#231f20" stroke="#231f20" stroke-width="0.1"><tspan>30</tspan></text>
<line x1="270.90" y1="399.87" x2="273.50" y2="399.87" stroke="#231f20" stroke-width="1.15"/>
<text transform="translate(269.20,402.87) scale(0.9000,1)" font-size="8.5" text-anchor="end" fill="#231f20" stroke="#231f20" stroke-width="0.1"><tspan>20</tspan></text>
<line x1="270.90" y1="418.06" x2="273.50" y2="418.06" stroke="#231f20" stroke-width="1.15"/>
<text transform="translate(269.20,421.06) scale(0.9000,1)" font-size="8.5" text-anchor="end" fill="#231f20" stroke="#231f20" stroke-width="0.1"><tspan>10</tspan></text>
<line x1="270.90" y1="436.25" x2="273.50" y2="436.25" stroke="#231f20" stroke-width="1.15"/>
<text transform="translate(269.20,439.25) scale(0.9000,1)" font-size="8.5" text-anchor="end" fill="#231f20" stroke="#231f20" stroke-width="0.1"><tspan>0</tspan></text>
<line x1="270.50" y1="436.25" x2="333.80" y2="436.25" stroke="#231f20" stroke-width="1.15"/>
<line x1="288.10" y1="436.25" x2="288.10" y2="438.85" stroke="#231f20" stroke-width="1.15"/>
<line x1="319.00" y1="436.25" x2="319.00" y2="438.85" stroke="#231f20" stroke-width="1.15"/>
<rect x="279.00" y="383.50" width="7.90" height="52.75" fill="#808184"/>
<line x1="282.95" y1="376.90" x2="282.95" y2="390.00" stroke="#231f20" stroke-width="0.95"/>
<line x1="281.15" y1="376.90" x2="284.75" y2="376.90" stroke="#231f20" stroke-width="0.95"/>
<line x1="281.15" y1="390.00" x2="284.75" y2="390.00" stroke="#231f20" stroke-width="0.95"/>
<rect x="290.30" y="384.41" width="8.20" height="51.84" fill="#e8291c"/>
<line x1="294.40" y1="379.80" x2="294.40" y2="391.30" stroke="#231f20" stroke-width="0.95"/>
<line x1="292.60" y1="379.80" x2="296.20" y2="379.80" stroke="#231f20" stroke-width="0.95"/>
<line x1="292.60" y1="391.30" x2="296.20" y2="391.30" stroke="#231f20" stroke-width="0.95"/>
<circle cx="294.40" cy="381.00" r="0.85" fill="#231f20"/>
<rect x="309.00" y="425.34" width="7.90" height="10.91" fill="#808184"/>
<line x1="312.95" y1="421.30" x2="312.95" y2="429.40" stroke="#231f20" stroke-width="0.95"/>
<line x1="311.15" y1="421.30" x2="314.75" y2="421.30" stroke="#231f20" stroke-width="0.95"/>
<line x1="311.15" y1="429.40" x2="314.75" y2="429.40" stroke="#231f20" stroke-width="0.95"/>
<circle cx="313.00" cy="423.50" r="0.85" fill="#231f20"/>
<circle cx="313.00" cy="427.00" r="0.85" fill="#231f20"/>
<rect x="320.00" y="433.52" width="8.10" height="2.73" fill="#e8291c"/>
<line x1="324.05" y1="430.60" x2="324.05" y2="436.00" stroke="#231f20" stroke-width="0.95"/>
<line x1="322.25" y1="430.60" x2="325.85" y2="430.60" stroke="#231f20" stroke-width="0.95"/>
<line x1="322.25" y1="436.00" x2="325.85" y2="436.00" stroke="#231f20" stroke-width="0.95"/>
<circle cx="324.00" cy="432.00" r="0.85" fill="#231f20"/>
<line x1="293.80" y1="374.80" x2="324.00" y2="374.80" stroke="#3a3a3a" stroke-width="1.0"/>
<line x1="308.50" y1="369.20" x2="308.50" y2="371.80" stroke="#231f20" stroke-width="0.75"/>
<line x1="307.37" y1="369.85" x2="309.63" y2="371.15" stroke="#231f20" stroke-width="0.75"/>
<line x1="307.37" y1="371.15" x2="309.63" y2="369.85" stroke="#231f20" stroke-width="0.75"/>
<text transform="translate(293.10,442.85) rotate(-45) scale(1.0431,1)" font-size="8.4" text-anchor="end" fill="#231f20" stroke="#231f20" stroke-width="0.1"><tspan>shControl</tspan></text>
<text transform="translate(323.60,442.85) rotate(-45) scale(0.9653,1)" font-size="8.4" text-anchor="end" fill="#231f20" stroke="#231f20" stroke-width="0.1"><tspan>shIRAK1</tspan></text>
<text transform="translate(17.00,398.40) rotate(-90) scale(0.8837,1)" font-size="8.8" text-anchor="middle" fill="#231f20" stroke="#231f20" stroke-width="0.1"><tspan>Number of colonies</tspan></text>
<rect x="335.60" y="389.00" width="5.20" height="4.80" fill="#808184"/>
<text transform="translate(344.00,393.90) scale(0.8627,1)" font-size="8.5" text-anchor="start" fill="#231f20" stroke="#231f20" stroke-width="0.1"><tspan>WT</tspan></text>
<rect x="335.60" y="402.20" width="5.20" height="4.40" fill="#e8291c"/>
<text transform="translate(344.00,407.40) scale(0.8820,1)" font-size="8.5" text-anchor="start" fill="#231f20" stroke="#231f20" stroke-width="0.1"><tspan>IRAK4</tspan><tspan font-size="4.42" dy="-2.55">KO</tspan></text>
<text transform="translate(386.60,348.80)" font-size="11" text-anchor="start" fill="#231f20" font-weight="bold"><tspan>H</tspan></text>
<text transform="translate(462.90,353.50) scale(0.8652,1)" font-size="8.5" text-anchor="middle" fill="#231f20" stroke="#231f20" stroke-width="0.1"><tspan>THP1</tspan></text>
<line x1="426.50" y1="351.90" x2="426.50" y2="454.05" stroke="#231f20" stroke-width="1.15"/>
<line x1="423.90" y1="355.60" x2="426.50" y2="355.60" stroke="#231f20" stroke-width="1.15"/>
<text transform="translate(421.30,358.60) scale(0.9000,1)" font-size="8.5" text-anchor="end" fill="#231f20" stroke="#231f20" stroke-width="0.1"><tspan>200</tspan></text>
<line x1="423.90" y1="380.07" x2="426.50" y2="380.07" stroke="#231f20" stroke-width="1.15"/>
<text transform="translate(421.30,383.07) scale(0.9000,1)" font-size="8.5" text-anchor="end" fill="#231f20" stroke="#231f20" stroke-width="0.1"><tspan>150</tspan></text>
<line x1="423.90" y1="404.55" x2="426.50" y2="404.55" stroke="#231f20" stroke-width="1.15"/>
<text transform="translate(421.30,407.55) scale(0.9000,1)" font-size="8.5" text-anchor="end" fill="#231f20" stroke="#231f20" stroke-width="0.1"><tspan>100</tspan></text>
<line x1="423.90" y1="429.02" x2="426.50" y2="429.02" stroke="#231f20" stroke-width="1.15"/>
<text transform="translate(421.30,432.02) scale(0.9000,1)" font-size="8.5" text-anchor="end" fill="#231f20" stroke="#231f20" stroke-width="0.1"><tspan>50</tspan></text>
<line x1="423.90" y1="453.50" x2="426.50" y2="453.50" stroke="#231f20" stroke-width="1.15"/>
<text transform="translate(421.30,456.50) scale(0.9000,1)" font-size="8.5" text-anchor="end" fill="#231f20" stroke="#231f20" stroke-width="0.1"><tspan>0</tspan></text>
<line x1="424.00" y1="453.50" x2="499.40" y2="453.50" stroke="#231f20" stroke-width="1.15"/>
<line x1="437.70" y1="453.50" x2="437.70" y2="456.10" stroke="#231f20" stroke-width="1.15"/>
<line x1="454.20" y1="453.50" x2="454.20" y2="456.10" stroke="#231f20" stroke-width="1.15"/>
<line x1="471.00" y1="453.50" x2="471.00" y2="456.10" stroke="#231f20" stroke-width="1.15"/>
<line x1="488.10" y1="453.50" x2="488.10" y2="456.10" stroke="#231f20" stroke-width="1.15"/>
<rect x="433.10" y="390.35" width="9.20" height="63.15" fill="#808184"/>
<line x1="437.70" y1="379.80" x2="437.70" y2="401.50" stroke="#231f20" stroke-width="0.95"/>
<line x1="435.70" y1="379.80" x2="439.70" y2="379.80" stroke="#231f20" stroke-width="0.95"/>
<line x1="435.70" y1="401.50" x2="439.70" y2="401.50" stroke="#231f20" stroke-width="0.95"/>
<circle cx="433.40" cy="384.00" r="0.95" fill="#231f20"/>
<circle cx="441.80" cy="384.00" r="0.95" fill="#231f20"/>
<circle cx="437.70" cy="401.00" r="0.95" fill="#231f20"/>
<rect x="449.40" y="411.89" width="9.60" height="41.61" fill="#e6301f"/>
<line x1="454.20" y1="399.00" x2="454.20" y2="423.50" stroke="#231f20" stroke-width="0.95"/>
<line x1="452.20" y1="399.00" x2="456.20" y2="399.00" stroke="#231f20" stroke-width="0.95"/>
<line x1="452.20" y1="423.50" x2="456.20" y2="423.50" stroke="#231f20" stroke-width="0.95"/>
<circle cx="454.20" cy="399.00" r="0.95" fill="#231f20"/>
<circle cx="450.60" cy="419.40" r="0.95" fill="#231f20"/>
<circle cx="458.80" cy="417.50" r="0.95" fill="#231f20"/>
<rect x="466.40" y="432.94" width="9.60" height="20.56" fill="#f28f3b"/>
<line x1="471.20" y1="425.60" x2="471.20" y2="438.80" stroke="#231f20" stroke-width="0.95"/>
<line x1="469.20" y1="425.60" x2="473.20" y2="425.60" stroke="#231f20" stroke-width="0.95"/>
<line x1="469.20" y1="438.80" x2="473.20" y2="438.80" stroke="#231f20" stroke-width="0.95"/>
<circle cx="471.00" cy="425.60" r="0.95" fill="#231f20"/>
<circle cx="467.50" cy="437.00" r="0.95" fill="#231f20"/>
<circle cx="474.50" cy="435.00" r="0.95" fill="#231f20"/>
<rect x="483.50" y="442.98" width="9.30" height="10.52" fill="#3553a8"/>
<line x1="488.15" y1="440.00" x2="488.15" y2="446.00" stroke="#231f20" stroke-width="0.95"/>
<line x1="486.15" y1="440.00" x2="490.15" y2="440.00" stroke="#231f20" stroke-width="0.95"/>
<line x1="486.15" y1="446.00" x2="490.15" y2="446.00" stroke="#231f20" stroke-width="0.95"/>
<circle cx="484.00" cy="440.00" r="0.95" fill="#231f20"/>
<circle cx="492.00" cy="442.40" r="0.95" fill="#231f20"/>
<circle cx="484.00" cy="445.00" r="0.95" fill="#231f20"/>
<circle cx="489.00" cy="447.50" r="0.95" fill="#231f20"/>
<line x1="453.80" y1="391.90" x2="488.80" y2="391.90" stroke="#3a3a3a" stroke-width="1.0"/>
<line x1="471.50" y1="386.20" x2="471.50" y2="388.80" stroke="#231f20" stroke-width="0.75"/>
<line x1="470.37" y1="386.85" x2="472.63" y2="388.15" stroke="#231f20" stroke-width="0.75"/>
<line x1="470.37" y1="388.15" x2="472.63" y2="386.85" stroke="#231f20" stroke-width="0.75"/>
<line x1="470.30" y1="418.50" x2="487.50" y2="418.50" stroke="#3a3a3a" stroke-width="1.0"/>
<line x1="479.00" y1="413.10" x2="479.00" y2="415.70" stroke="#231f20" stroke-width="0.75"/>
<line x1="477.87" y1="413.75" x2="480.13" y2="415.05" stroke="#231f20" stroke-width="0.75"/>
<line x1="477.87" y1="415.05" x2="480.13" y2="413.75" stroke="#231f20" stroke-width="0.75"/>
<text transform="translate(437.70,465.30) scale(0.8778,1)" font-size="8.5" text-anchor="middle" fill="#231f20" stroke="#231f20" stroke-width="0.1"><tspan>WT</tspan></text>
<text transform="translate(448.90,465.30) scale(1.0438,1)" font-size="8.5" text-anchor="start" fill="#231f20" stroke="#231f20" stroke-width="0.1"><tspan>4</tspan><tspan font-size="4.42" dy="-2.55">KO</tspan></text>
<text transform="translate(466.50,465.30) scale(0.9718,1)" font-size="8.5" text-anchor="start" fill="#231f20" stroke="#231f20" stroke-width="0.1"><tspan>1</tspan><tspan font-size="4.42" dy="-2.55">KO</tspan></text>
<text transform="translate(481.30,465.30) scale(1.0164,1)" font-size="8.5" text-anchor="start" fill="#231f20" stroke="#231f20" stroke-width="0.1"><tspan>1/4</tspan><tspan font-size="4.42" dy="-2.55">dKO</tspan></text>
<text transform="translate(404.20,402.50) rotate(-90) scale(0.8837,1)" font-size="8.8" text-anchor="middle" fill="#231f20" stroke="#231f20" stroke-width="0.1"><tspan>Number of colonies</tspan></text>
<text transform="translate(13.40,491.90)" font-size="11" text-anchor="start" fill="#231f20" font-weight="bold"><tspan>F</tspan></text>
<text transform="translate(33.70,507.80) scale(0.9605,1)" font-size="8.5" text-anchor="start" fill="#231f20" stroke="#231f20" stroke-width="0.1"><tspan>WT;shControl</tspan></text>
<text transform="translate(91.00,507.80) scale(0.9542,1)" font-size="8.5" text-anchor="start" fill="#231f20" stroke="#231f20" stroke-width="0.1"><tspan>IRAK4</tspan><tspan font-size="4.42" dy="-2.55">KO</tspan><tspan dy="2.55">;shControl</tspan></text>
<text transform="translate(169.00,507.80) scale(0.8987,1)" font-size="8.5" text-anchor="start" fill="#231f20" stroke="#231f20" stroke-width="0.1"><tspan>WT;shIRAK1</tspan></text>
<text transform="translate(226.90,507.80) scale(0.9034,1)" font-size="8.5" text-anchor="start" fill="#231f20" stroke="#231f20" stroke-width="0.1"><tspan>IRAK4</tspan><tspan font-size="4.42" dy="-2.55">KO</tspan><tspan dy="2.55">;shIRAK1</tspan></text>
<text transform="translate(20.00,536.90) rotate(-90) scale(0.9742,1)" font-size="8.3" text-anchor="middle" fill="#231f20" stroke="#231f20" stroke-width="0.1"><tspan>AML(1294)</tspan></text>
<rect x="24.50" y="513.00" width="65.30" height="47.60" fill="#8a8a8a"/>
<rect x="24.75" y="513.25" width="32.15" height="23.50" rx="2.0" fill="url(#fgt)"/>
<rect x="24.75" y="537.25" width="32.15" height="23.10" rx="2.0" fill="url(#fgb)"/>
<rect x="57.40" y="513.25" width="32.15" height="23.50" rx="2.0" fill="url(#fgt)"/>
<rect x="57.40" y="537.25" width="32.15" height="23.10" rx="2.0" fill="url(#fgb)"/>
<circle cx="40" cy="522" r="2" fill="#8a8a8a" opacity="0.4" filter="url(#bl2)"/>
<circle cx="49" cy="519" r="1.2" fill="#8a8a8a" opacity="0.4" filter="url(#bl2)"/>
<circle cx="33" cy="528" r="1.5" fill="#8a8a8a" opacity="0.4" filter="url(#bl2)"/>
<circle cx="70" cy="525" r="1.6" fill="#8a8a8a" opacity="0.4" filter="url(#bl2)"/>
<circle cx="52" cy="545" r="1.6" fill="#8a8a8a" opacity="0.4" filter="url(#bl2)"/>
<circle cx="74" cy="541" r="1.5" fill="#8a8a8a" opacity="0.4" filter="url(#bl2)"/>
<circle cx="80" cy="553" r="1.8" fill="#8a8a8a" opacity="0.4" filter="url(#bl2)"/>
<circle cx="62" cy="556" r="1.4" fill="#8a8a8a" opacity="0.4" filter="url(#bl2)"/>
<circle cx="45" cy="532" r="1.2" fill="#8a8a8a" opacity="0.4" filter="url(#bl2)"/>
<rect x="24.80" y="513.30" width="64.70" height="47.00" fill="none" stroke="#5a5a5a" stroke-width="0.6"/>
<rect x="91.90" y="513.00" width="64.70" height="47.60" fill="#8a8a8a"/>
<rect x="92.15" y="513.25" width="31.85" height="23.50" rx="2.0" fill="url(#fgt)"/>
<rect x="92.15" y="537.25" width="31.85" height="23.10" rx="2.0" fill="url(#fgb)"/>
<rect x="124.50" y="513.25" width="31.85" height="23.50" rx="2.0" fill="url(#fgt)"/>
<rect x="124.50" y="537.25" width="31.85" height="23.10" rx="2.0" fill="url(#fgb)"/>
<circle cx="105" cy="525" r="1.6" fill="#8a8a8a" opacity="0.4" filter="url(#bl2)"/>
<circle cx="118" cy="533" r="1.8" fill="#8a8a8a" opacity="0.4" filter="url(#bl2)"/>
<circle cx="125" cy="540" r="1.2" fill="#8a8a8a" opacity="0.4" filter="url(#bl2)"/>
<circle cx="145" cy="522" r="1.2" fill="#8a8a8a" opacity="0.4" filter="url(#bl2)"/>
<circle cx="140" cy="548" r="1.4" fill="#8a8a8a" opacity="0.4" filter="url(#bl2)"/>
<circle cx="110" cy="550" r="1.2" fill="#8a8a8a" opacity="0.4" filter="url(#bl2)"/>
<rect x="92.20" y="513.30" width="64.10" height="47.00" fill="none" stroke="#5a5a5a" stroke-width="0.6"/>
<rect x="159.00" y="513.00" width="64.50" height="47.60" fill="#8a8a8a"/>
<rect x="159.25" y="513.25" width="31.75" height="23.50" rx="2.0" fill="url(#fgt)"/>
<rect x="159.25" y="537.25" width="31.75" height="23.10" rx="2.0" fill="url(#fgb)"/>
<rect x="191.50" y="513.25" width="31.75" height="23.50" rx="2.0" fill="url(#fgt)"/>
<rect x="191.50" y="537.25" width="31.75" height="23.10" rx="2.0" fill="url(#fgb)"/>
<circle cx="178" cy="548" r="1.5" fill="#8a8a8a" opacity="0.4" filter="url(#bl2)"/>
<circle cx="205" cy="530" r="1.0" fill="#8a8a8a" opacity="0.4" filter="url(#bl2)"/>
<rect x="159.30" y="513.30" width="63.90" height="47.00" fill="none" stroke="#5a5a5a" stroke-width="0.6"/>
<rect x="225.30" y="513.00" width="64.70" height="47.60" fill="#8a8a8a"/>
<rect x="225.55" y="513.25" width="31.85" height="23.50" rx="2.0" fill="url(#fgt)"/>
<rect x="225.55" y="537.25" width="31.85" height="23.10" rx="2.0" fill="url(#fgb)"/>
<rect x="257.90" y="513.25" width="31.85" height="23.50" rx="2.0" fill="url(#fgt)"/>
<rect x="257.90" y="537.25" width="31.85" height="23.10" rx="2.0" fill="url(#fgb)"/>
<circle cx="240" cy="548" r="1.0" fill="#8a8a8a" opacity="0.4" filter="url(#bl2)"/>
<circle cx="270" cy="528" r="1.0" fill="#8a8a8a" opacity="0.4" filter="url(#bl2)"/>
<rect x="225.60" y="513.30" width="64.10" height="47.00" fill="none" stroke="#5a5a5a" stroke-width="0.6"/>
<text transform="translate(356.20,478.50)" font-size="11" text-anchor="start" fill="#231f20" font-weight="bold"><tspan>I</tspan></text>
<line x1="386.25" y1="485.60" x2="386.25" y2="561.55" stroke="#231f20" stroke-width="1.15"/>
<line x1="383.65" y1="489.00" x2="386.25" y2="489.00" stroke="#231f20" stroke-width="1.15"/>
<text transform="translate(380.20,492.00) scale(0.9000,1)" font-size="8.5" text-anchor="end" fill="#231f20" stroke="#231f20" stroke-width="0.1"><tspan>100</tspan></text>
<line x1="383.65" y1="507.00" x2="386.25" y2="507.00" stroke="#231f20" stroke-width="1.15"/>
<text transform="translate(380.20,510.00) scale(0.9000,1)" font-size="8.5" text-anchor="end" fill="#231f20" stroke="#231f20" stroke-width="0.1"><tspan>75</tspan></text>
<line x1="383.65" y1="525.00" x2="386.25" y2="525.00" stroke="#231f20" stroke-width="1.15"/>
<text transform="translate(380.20,528.00) scale(0.9000,1)" font-size="8.5" text-anchor="end" fill="#231f20" stroke="#231f20" stroke-width="0.1"><tspan>50</tspan></text>
<line x1="383.65" y1="543.00" x2="386.25" y2="543.00" stroke="#231f20" stroke-width="1.15"/>
<text transform="translate(380.20,546.00) scale(0.9000,1)" font-size="8.5" text-anchor="end" fill="#231f20" stroke="#231f20" stroke-width="0.1"><tspan>25</tspan></text>
<line x1="383.65" y1="561.00" x2="386.25" y2="561.00" stroke="#231f20" stroke-width="1.15"/>
<text transform="translate(380.20,564.00) scale(0.9000,1)" font-size="8.5" text-anchor="end" fill="#231f20" stroke="#231f20" stroke-width="0.1"><tspan>0</tspan></text>
<line x1="386.25" y1="561.00" x2="498.20" y2="561.00" stroke="#231f20" stroke-width="1.15"/>
<line x1="386.25" y1="561.00" x2="386.25" y2="564.00" stroke="#231f20" stroke-width="1.15"/>
<line x1="413.45" y1="561.00" x2="413.45" y2="564.00" stroke="#231f20" stroke-width="1.15"/>
<line x1="440.65" y1="561.00" x2="440.65" y2="564.00" stroke="#231f20" stroke-width="1.15"/>
<line x1="467.85" y1="561.00" x2="467.85" y2="564.00" stroke="#231f20" stroke-width="1.15"/>
<line x1="495.05" y1="561.00" x2="495.05" y2="564.00" stroke="#231f20" stroke-width="1.15"/>
<text transform="translate(386.25,573.80) scale(0.9200,1)" font-size="8.4" text-anchor="middle" fill="#231f20" stroke="#231f20" stroke-width="0.1"><tspan>0</tspan></text>
<text transform="translate(413.45,573.80) scale(0.9200,1)" font-size="8.4" text-anchor="middle" fill="#231f20" stroke="#231f20" stroke-width="0.1"><tspan>20</tspan></text>
<text transform="translate(440.65,573.80) scale(0.9200,1)" font-size="8.4" text-anchor="middle" fill="#231f20" stroke="#231f20" stroke-width="0.1"><tspan>40</tspan></text>
<text transform="translate(467.85,573.80) scale(0.9200,1)" font-size="8.4" text-anchor="middle" fill="#231f20" stroke="#231f20" stroke-width="0.1"><tspan>60</tspan></text>
<text transform="translate(495.05,573.80) scale(0.9200,1)" font-size="8.4" text-anchor="middle" fill="#231f20" stroke="#231f20" stroke-width="0.1"><tspan>80</tspan></text>
<text transform="translate(442.50,587.00) scale(0.7962,1)" font-size="8.6" text-anchor="middle" fill="#231f20" stroke="#231f20" stroke-width="0.1"><tspan>Days</tspan></text>
<text transform="translate(363.00,522.90) rotate(-90) scale(0.8515,1)" font-size="8.7" text-anchor="middle" fill="#231f20" stroke="#231f20" stroke-width="0.1"><tspan>Percent survival</tspan></text>
<line x1="386.25" y1="489.00" x2="459.20" y2="489.00" stroke="#505050" stroke-width="1.3"/>
<polyline points="459.20,489.00 459.20,499.20 472.60,499.20 472.60,509.50 474.00,509.50 474.00,530.10 479.40,530.10 479.40,561.00" fill="none" stroke="#4a64a8" stroke-width="1.2"/>
<polyline points="443.70,489.00 443.70,499.20 459.20,499.20 459.20,519.80 460.30,519.80 460.30,530.10 465.90,530.10 465.90,550.70 468.50,550.70 468.50,561.00" fill="none" stroke="#e8362c" stroke-width="1.2"/>
<polyline points="449.40,489.00 449.40,499.20 452.50,499.20 452.50,530.10 453.70,530.10 453.70,540.40 454.40,540.40 454.40,561.00" fill="none" stroke="#f4a33a" stroke-width="1.2"/>
<polyline points="443.20,489.00 443.20,509.50 444.40,509.50 444.40,561.00" fill="none" stroke="#111111" stroke-width="1.2"/>
<circle cx="443.20" cy="509.50" r="1.20" fill="#111111"/>
<circle cx="444.40" cy="561.00" r="1.20" fill="#111111"/>
<circle cx="449.40" cy="499.20" r="1.20" fill="#f4a33a"/>
<circle cx="452.60" cy="530.10" r="1.20" fill="#f4a33a"/>
<circle cx="453.70" cy="540.40" r="1.20" fill="#f4a33a"/>
<circle cx="454.40" cy="561.00" r="1.20" fill="#f4a33a"/>
<circle cx="444.30" cy="499.20" r="1.20" fill="#e8362c"/>
<circle cx="459.20" cy="519.80" r="1.20" fill="#e8362c"/>
<circle cx="460.30" cy="530.10" r="1.20" fill="#e8362c"/>
<circle cx="465.90" cy="550.70" r="1.20" fill="#e8362c"/>
<circle cx="468.50" cy="561.00" r="1.20" fill="#e8362c"/>
<circle cx="459.20" cy="499.20" r="1.20" fill="#4a64a8"/>
<circle cx="472.60" cy="509.50" r="1.20" fill="#4a64a8"/>
<circle cx="474.00" cy="530.10" r="1.20" fill="#4a64a8"/>
<circle cx="479.40" cy="561.00" r="1.20" fill="#4a64a8"/>
<circle cx="459.20" cy="499.20" r="1.10" fill="#6a3a8a"/>
<line x1="468.00" y1="540.30" x2="477.50" y2="540.30" stroke="#555" stroke-width="1.0"/>
<line x1="472.30" y1="536.40" x2="472.30" y2="538.40" stroke="#231f20" stroke-width="0.75"/>
<line x1="471.43" y1="536.90" x2="473.17" y2="537.90" stroke="#231f20" stroke-width="0.75"/>
<line x1="471.43" y1="537.90" x2="473.17" y2="536.90" stroke="#231f20" stroke-width="0.75"/>
<line x1="457.30" y1="546.90" x2="477.50" y2="546.90" stroke="#555" stroke-width="1.0"/>
<line x1="468.50" y1="542.40" x2="468.50" y2="544.40" stroke="#231f20" stroke-width="0.75"/>
<line x1="467.63" y1="542.90" x2="469.37" y2="543.90" stroke="#231f20" stroke-width="0.75"/>
<line x1="467.63" y1="543.90" x2="469.37" y2="542.90" stroke="#231f20" stroke-width="0.75"/>
<line x1="447.30" y1="556.00" x2="477.50" y2="556.00" stroke="#555" stroke-width="1.0"/>
<line x1="463.50" y1="551.90" x2="463.50" y2="553.90" stroke="#231f20" stroke-width="0.75"/>
<line x1="462.63" y1="552.40" x2="464.37" y2="553.40" stroke="#231f20" stroke-width="0.75"/>
<line x1="462.63" y1="553.40" x2="464.37" y2="552.40" stroke="#231f20" stroke-width="0.75"/>
<line x1="389.00" y1="512.80" x2="398.10" y2="512.80" stroke="#111111" stroke-width="1.0"/>
<circle cx="393.50" cy="512.80" r="1.20" fill="#111111"/>
<text transform="translate(401.30,515.50) scale(0.8423,1)" font-size="8.4" text-anchor="start" fill="#231f20" stroke="#231f20" stroke-width="0.1"><tspan>WT</tspan></text>
<line x1="389.00" y1="524.00" x2="398.10" y2="524.00" stroke="#f4a33a" stroke-width="1.0"/>
<circle cx="393.50" cy="524.00" r="1.20" fill="#f4a33a"/>
<text transform="translate(401.30,526.70) scale(0.8990,1)" font-size="8.4" text-anchor="start" fill="#231f20" stroke="#231f20" stroke-width="0.1"><tspan>IRAK1</tspan><tspan font-size="4.37" dy="-2.52">KO</tspan></text>
<line x1="389.00" y1="536.30" x2="398.10" y2="536.30" stroke="#e8362c" stroke-width="1.0"/>
<circle cx="393.50" cy="536.30" r="1.20" fill="#e8362c"/>
<text transform="translate(401.30,539.00) scale(0.8990,1)" font-size="8.4" text-anchor="start" fill="#231f20" stroke="#231f20" stroke-width="0.1"><tspan>IRAK4</tspan><tspan font-size="4.37" dy="-2.52">KO</tspan></text>
<line x1="389.00" y1="548.50" x2="398.10" y2="548.50" stroke="#4a64a8" stroke-width="1.0"/>
<circle cx="393.50" cy="548.50" r="1.20" fill="#4a64a8"/>
<text transform="translate(401.30,551.20) scale(0.9369,1)" font-size="8.4" text-anchor="start" fill="#231f20" stroke="#231f20" stroke-width="0.1"><tspan>IRAK1/4</tspan><tspan font-size="4.37" dy="-2.52">dKO</tspan></text>
<text transform="translate(18.70,578.80)" font-size="11" text-anchor="start" fill="#231f20" font-weight="bold"><tspan>J</tspan></text>
<line x1="47.75" y1="585.60" x2="47.75" y2="675.80" stroke="#231f20" stroke-width="1.15"/>
<line x1="45.15" y1="589.40" x2="47.75" y2="589.40" stroke="#231f20" stroke-width="1.15"/>
<text transform="translate(41.30,592.40) scale(0.9000,1)" font-size="8.5" text-anchor="end" fill="#231f20" stroke="#231f20" stroke-width="0.1"><tspan>80</tspan></text>
<line x1="45.15" y1="610.86" x2="47.75" y2="610.86" stroke="#231f20" stroke-width="1.15"/>
<text transform="translate(41.30,613.86) scale(0.9000,1)" font-size="8.5" text-anchor="end" fill="#231f20" stroke="#231f20" stroke-width="0.1"><tspan>60</tspan></text>
<line x1="45.15" y1="632.33" x2="47.75" y2="632.33" stroke="#231f20" stroke-width="1.15"/>
<text transform="translate(41.30,635.33) scale(0.9000,1)" font-size="8.5" text-anchor="end" fill="#231f20" stroke="#231f20" stroke-width="0.1"><tspan>40</tspan></text>
<line x1="45.15" y1="653.79" x2="47.75" y2="653.79" stroke="#231f20" stroke-width="1.15"/>
<text transform="translate(41.30,656.79) scale(0.9000,1)" font-size="8.5" text-anchor="end" fill="#231f20" stroke="#231f20" stroke-width="0.1"><tspan>20</tspan></text>
<line x1="45.15" y1="675.25" x2="47.75" y2="675.25" stroke="#231f20" stroke-width="1.15"/>
<text transform="translate(41.30,678.25) scale(0.9000,1)" font-size="8.5" text-anchor="end" fill="#231f20" stroke="#231f20" stroke-width="0.1"><tspan>0</tspan></text>
<line x1="45.15" y1="675.25" x2="111.90" y2="675.25" stroke="#231f20" stroke-width="1.15"/>
<line x1="57.25" y1="675.25" x2="57.25" y2="678.05" stroke="#231f20" stroke-width="1.15"/>
<line x1="71.90" y1="675.25" x2="71.90" y2="678.05" stroke="#231f20" stroke-width="1.15"/>
<line x1="86.90" y1="675.25" x2="86.90" y2="678.05" stroke="#231f20" stroke-width="1.15"/>
<line x1="101.90" y1="675.25" x2="101.90" y2="678.05" stroke="#231f20" stroke-width="1.15"/>
<text transform="translate(26.20,629.50) rotate(-90) scale(0.8546,1)" font-size="8.7" text-anchor="middle" fill="#231f20" stroke="#231f20" stroke-width="0.1"><tspan>Percent AML cells (BM)</tspan></text>
<text transform="translate(51.20,687.80) scale(0.9005,1)" font-size="8.5" text-anchor="start" fill="#231f20" stroke="#231f20" stroke-width="0.1"><tspan>WT</tspan></text>
<text transform="translate(65.60,687.80) scale(1.1247,1)" font-size="8.5" text-anchor="start" fill="#231f20" stroke="#231f20" stroke-width="0.1"><tspan>4</tspan><tspan font-size="4.42" dy="-2.55">KO</tspan></text>
<text transform="translate(81.20,687.80) scale(1.0348,1)" font-size="8.5" text-anchor="start" fill="#231f20" stroke="#231f20" stroke-width="0.1"><tspan>1</tspan><tspan font-size="4.42" dy="-2.55">KO</tspan></text>
<text transform="translate(94.40,687.80) scale(1.0261,1)" font-size="8.5" text-anchor="start" fill="#231f20" stroke="#231f20" stroke-width="0.1"><tspan>1/4</tspan><tspan font-size="4.42" dy="-2.55">dKO</tspan></text>
<text transform="translate(138.70,577.80)" font-size="11" text-anchor="start" fill="#231f20" font-weight="bold"><tspan>K</tspan></text>
<line x1="169.40" y1="585.00" x2="169.40" y2="675.30" stroke="#231f20" stroke-width="1.15"/>
<line x1="166.80" y1="588.90" x2="169.40" y2="588.90" stroke="#231f20" stroke-width="1.15"/>
<text transform="translate(162.50,591.90) scale(0.9000,1)" font-size="8.5" text-anchor="end" fill="#231f20" stroke="#231f20" stroke-width="0.1"><tspan>80</tspan></text>
<line x1="166.80" y1="610.36" x2="169.40" y2="610.36" stroke="#231f20" stroke-width="1.15"/>
<text transform="translate(162.50,613.36) scale(0.9000,1)" font-size="8.5" text-anchor="end" fill="#231f20" stroke="#231f20" stroke-width="0.1"><tspan>60</tspan></text>
<line x1="166.80" y1="631.83" x2="169.40" y2="631.83" stroke="#231f20" stroke-width="1.15"/>
<text transform="translate(162.50,634.83) scale(0.9000,1)" font-size="8.5" text-anchor="end" fill="#231f20" stroke="#231f20" stroke-width="0.1"><tspan>40</tspan></text>
<line x1="166.80" y1="653.29" x2="169.40" y2="653.29" stroke="#231f20" stroke-width="1.15"/>
<text transform="translate(162.50,656.29) scale(0.9000,1)" font-size="8.5" text-anchor="end" fill="#231f20" stroke="#231f20" stroke-width="0.1"><tspan>20</tspan></text>
<line x1="166.80" y1="674.75" x2="169.40" y2="674.75" stroke="#231f20" stroke-width="1.15"/>
<text transform="translate(162.50,677.75) scale(0.9000,1)" font-size="8.5" text-anchor="end" fill="#231f20" stroke="#231f20" stroke-width="0.1"><tspan>0</tspan></text>
<line x1="166.80" y1="674.75" x2="234.00" y2="674.75" stroke="#231f20" stroke-width="1.15"/>
<line x1="179.75" y1="674.75" x2="179.75" y2="677.55" stroke="#231f20" stroke-width="1.15"/>
<line x1="194.40" y1="674.75" x2="194.40" y2="677.55" stroke="#231f20" stroke-width="1.15"/>
<line x1="209.00" y1="674.75" x2="209.00" y2="677.55" stroke="#231f20" stroke-width="1.15"/>
<line x1="223.50" y1="674.75" x2="223.50" y2="677.55" stroke="#231f20" stroke-width="1.15"/>
<text transform="translate(147.60,629.00) rotate(-90) scale(0.8387,1)" font-size="8.7" text-anchor="middle" fill="#231f20" stroke="#231f20" stroke-width="0.1"><tspan>Percent AML cells (liver)</tspan></text>
<text transform="translate(173.10,687.80) scale(0.9005,1)" font-size="8.5" text-anchor="start" fill="#231f20" stroke="#231f20" stroke-width="0.1"><tspan>WT</tspan></text>
<text transform="translate(188.80,687.80) scale(1.1247,1)" font-size="8.5" text-anchor="start" fill="#231f20" stroke="#231f20" stroke-width="0.1"><tspan>4</tspan><tspan font-size="4.42" dy="-2.55">KO</tspan></text>
<text transform="translate(203.80,687.80) scale(1.0348,1)" font-size="8.5" text-anchor="start" fill="#231f20" stroke="#231f20" stroke-width="0.1"><tspan>1</tspan><tspan font-size="4.42" dy="-2.55">KO</tspan></text>
<text transform="translate(216.90,687.80) scale(1.0261,1)" font-size="8.5" text-anchor="start" fill="#231f20" stroke="#231f20" stroke-width="0.1"><tspan>1/4</tspan><tspan font-size="4.42" dy="-2.55">dKO</tspan></text>
<line x1="57.30" y1="666.67" x2="57.30" y2="667.74" stroke="#444" stroke-width="0.9"/>
<line x1="57.30" y1="673.10" x2="57.30" y2="674.18" stroke="#444" stroke-width="0.9"/>
<line x1="55.00" y1="666.67" x2="59.60" y2="666.67" stroke="#231f20" stroke-width="1.0"/>
<line x1="55.00" y1="674.18" x2="59.60" y2="674.18" stroke="#231f20" stroke-width="1.0"/>
<rect x="53.10" y="667.74" width="8.40" height="5.37" fill="#a3a3a3" stroke="#a3a3a3" stroke-width="0.4"/>
<line x1="53.10" y1="670.96" x2="61.50" y2="670.96" stroke="#231f20" stroke-width="1.0"/>
<circle cx="57.30" cy="672.03" r="0.90" fill="#231f20"/>
<circle cx="57.30" cy="669.88" r="0.90" fill="#231f20"/>
<circle cx="55.30" cy="673.10" r="0.90" fill="#231f20"/>
<circle cx="59.30" cy="668.81" r="0.90" fill="#231f20"/>
<line x1="72.00" y1="646.49" x2="72.00" y2="653.47" stroke="#444" stroke-width="0.9"/>
<line x1="72.00" y1="668.06" x2="72.00" y2="668.27" stroke="#444" stroke-width="0.9"/>
<line x1="69.70" y1="646.49" x2="74.30" y2="646.49" stroke="#231f20" stroke-width="1.0"/>
<line x1="69.70" y1="668.27" x2="74.30" y2="668.27" stroke="#231f20" stroke-width="1.0"/>
<rect x="68.05" y="653.47" width="7.90" height="14.59" fill="#e8291c" stroke="#e8291c" stroke-width="0.4"/>
<line x1="68.05" y1="662.69" x2="75.95" y2="662.69" stroke="#231f20" stroke-width="1.0"/>
<circle cx="72.00" cy="658.62" r="0.90" fill="#231f20"/>
<circle cx="70.00" cy="667.74" r="0.90" fill="#231f20"/>
<circle cx="74.00" cy="667.74" r="0.90" fill="#231f20"/>
<line x1="87.00" y1="609.79" x2="87.00" y2="615.69" stroke="#444" stroke-width="0.9"/>
<line x1="87.00" y1="646.81" x2="87.00" y2="660.23" stroke="#444" stroke-width="0.9"/>
<line x1="84.70" y1="609.79" x2="89.30" y2="609.79" stroke="#231f20" stroke-width="1.0"/>
<line x1="84.70" y1="660.23" x2="89.30" y2="660.23" stroke="#231f20" stroke-width="1.0"/>
<rect x="82.50" y="615.69" width="9.00" height="31.12" fill="#f5a11d" stroke="#f5a11d" stroke-width="0.4"/>
<line x1="82.50" y1="632.33" x2="91.50" y2="632.33" stroke="#231f20" stroke-width="1.0"/>
<circle cx="87.00" cy="619.45" r="0.90" fill="#231f20"/>
<circle cx="90.50" cy="633.94" r="0.90" fill="#231f20"/>
<line x1="101.60" y1="669.35" x2="101.60" y2="672.57" stroke="#444" stroke-width="0.9"/>
<line x1="101.60" y1="674.71" x2="101.60" y2="675.25" stroke="#444" stroke-width="0.9"/>
<line x1="99.30" y1="669.35" x2="103.90" y2="669.35" stroke="#231f20" stroke-width="1.0"/>
<line x1="99.30" y1="675.25" x2="103.90" y2="675.25" stroke="#231f20" stroke-width="1.0"/>
<rect x="96.95" y="672.57" width="9.30" height="2.15" fill="#2f4f96" stroke="#2f4f96" stroke-width="0.4"/>
<line x1="96.95" y1="673.64" x2="106.25" y2="673.64" stroke="#231f20" stroke-width="1.0"/>
<line x1="179.70" y1="621.42" x2="179.70" y2="626.46" stroke="#444" stroke-width="0.9"/>
<line x1="179.70" y1="651.14" x2="179.70" y2="655.43" stroke="#444" stroke-width="0.9"/>
<line x1="177.40" y1="621.42" x2="182.00" y2="621.42" stroke="#231f20" stroke-width="1.0"/>
<line x1="177.40" y1="655.43" x2="182.00" y2="655.43" stroke="#231f20" stroke-width="1.0"/>
<rect x="175.60" y="626.46" width="8.20" height="24.68" fill="#a6a6a6" stroke="#a6a6a6" stroke-width="0.4"/>
<line x1="175.60" y1="641.48" x2="183.80" y2="641.48" stroke="#333333" stroke-width="1.0"/>
<circle cx="179.70" cy="638.26" r="0.90" fill="#231f20"/>
<circle cx="179.70" cy="644.70" r="0.90" fill="#231f20"/>
<line x1="194.40" y1="621.10" x2="194.40" y2="624.31" stroke="#444" stroke-width="0.9"/>
<line x1="194.40" y1="649.00" x2="194.40" y2="649.53" stroke="#444" stroke-width="0.9"/>
<line x1="192.10" y1="621.10" x2="196.70" y2="621.10" stroke="#231f20" stroke-width="1.0"/>
<line x1="192.10" y1="649.53" x2="196.70" y2="649.53" stroke="#231f20" stroke-width="1.0"/>
<rect x="190.00" y="624.31" width="8.80" height="24.68" fill="#e8291c" stroke="#e8291c" stroke-width="0.4"/>
<line x1="190.00" y1="645.24" x2="198.80" y2="645.24" stroke="#231f20" stroke-width="1.0"/>
<circle cx="194.40" cy="624.85" r="0.90" fill="#231f20"/>
<circle cx="191.40" cy="648.46" r="0.90" fill="#231f20"/>
<circle cx="197.40" cy="648.46" r="0.90" fill="#231f20"/>
<circle cx="194.40" cy="646.85" r="0.90" fill="#231f20"/>
<line x1="209.00" y1="603.93" x2="209.00" y2="607.68" stroke="#444" stroke-width="0.9"/>
<line x1="209.00" y1="625.39" x2="209.00" y2="641.48" stroke="#444" stroke-width="0.9"/>
<line x1="206.70" y1="603.93" x2="211.30" y2="603.93" stroke="#231f20" stroke-width="1.0"/>
<line x1="206.70" y1="641.48" x2="211.30" y2="641.48" stroke="#231f20" stroke-width="1.0"/>
<rect x="204.80" y="607.68" width="8.40" height="17.71" fill="#f5a11d" stroke="#f5a11d" stroke-width="0.4"/>
<line x1="204.80" y1="610.36" x2="213.20" y2="610.36" stroke="#231f20" stroke-width="1.0"/>
<circle cx="209.50" cy="608.75" r="0.90" fill="#231f20"/>
<circle cx="212.50" cy="610.36" r="0.90" fill="#231f20"/>
<circle cx="212.50" cy="612.51" r="0.90" fill="#231f20"/>
<line x1="224.00" y1="644.38" x2="224.00" y2="647.92" stroke="#444" stroke-width="0.9"/>
<line x1="224.00" y1="667.24" x2="224.00" y2="670.46" stroke="#444" stroke-width="0.9"/>
<line x1="221.70" y1="644.38" x2="226.30" y2="644.38" stroke="#231f20" stroke-width="1.0"/>
<line x1="221.70" y1="670.46" x2="226.30" y2="670.46" stroke="#231f20" stroke-width="1.0"/>
<rect x="219.85" y="647.92" width="8.30" height="19.32" fill="#3354a8" stroke="#3354a8" stroke-width="0.4"/>
<line x1="219.85" y1="657.04" x2="228.15" y2="657.04" stroke="#231f20" stroke-width="1.0"/>
<circle cx="224.00" cy="653.29" r="0.90" fill="#231f20"/>
<circle cx="224.00" cy="661.34" r="0.90" fill="#231f20"/>
<line x1="71.30" y1="597.50" x2="102.80" y2="597.50" stroke="#3a3a3a" stroke-width="1.0"/>
<line x1="87.30" y1="592.20" x2="87.30" y2="594.80" stroke="#231f20" stroke-width="0.75"/>
<line x1="86.17" y1="592.85" x2="88.43" y2="594.15" stroke="#231f20" stroke-width="0.75"/>
<line x1="86.17" y1="594.15" x2="88.43" y2="592.85" stroke="#231f20" stroke-width="0.75"/>
<line x1="86.30" y1="605.60" x2="102.50" y2="605.60" stroke="#3a3a3a" stroke-width="1.0"/>
<line x1="94.40" y1="600.20" x2="94.40" y2="602.80" stroke="#231f20" stroke-width="0.75"/>
<line x1="93.27" y1="600.85" x2="95.53" y2="602.15" stroke="#231f20" stroke-width="0.75"/>
<line x1="93.27" y1="602.15" x2="95.53" y2="600.85" stroke="#231f20" stroke-width="0.75"/>
<line x1="195.00" y1="591.30" x2="226.30" y2="591.30" stroke="#3a3a3a" stroke-width="1.0"/>
<line x1="210.30" y1="585.70" x2="210.30" y2="588.30" stroke="#231f20" stroke-width="0.75"/>
<line x1="209.17" y1="586.35" x2="211.43" y2="587.65" stroke="#231f20" stroke-width="0.75"/>
<line x1="209.17" y1="587.65" x2="211.43" y2="586.35" stroke="#231f20" stroke-width="0.75"/>
<line x1="209.80" y1="600.30" x2="225.30" y2="600.30" stroke="#3a3a3a" stroke-width="1.0"/>
<line x1="217.80" y1="595.20" x2="217.80" y2="597.80" stroke="#231f20" stroke-width="0.75"/>
<line x1="216.67" y1="595.85" x2="218.93" y2="597.15" stroke="#231f20" stroke-width="0.75"/>
<line x1="216.67" y1="597.15" x2="218.93" y2="595.85" stroke="#231f20" stroke-width="0.75"/>
<text transform="translate(268.40,601.00)" font-size="11" text-anchor="start" fill="#231f20" font-weight="bold"><tspan>L</tspan></text>
<text transform="translate(301.30,616.60) scale(0.9081,1)" font-size="8.5" text-anchor="middle" fill="#231f20" stroke="#231f20" stroke-width="0.1"><tspan>WT</tspan></text>
<text transform="translate(345.90,616.60) scale(0.9337,1)" font-size="8.5" text-anchor="start" fill="#231f20" stroke="#231f20" stroke-width="0.1"><tspan>IRAK4</tspan><tspan font-size="4.42" dy="-2.55">KO</tspan></text>
<text transform="translate(405.90,616.60) scale(0.9757,1)" font-size="8.5" text-anchor="start" fill="#231f20" stroke="#231f20" stroke-width="0.1"><tspan>IRAK1</tspan><tspan font-size="4.42" dy="-2.55">KO</tspan></text>
<text transform="translate(458.50,616.60) scale(0.9951,1)" font-size="8.5" text-anchor="start" fill="#231f20" stroke="#231f20" stroke-width="0.1"><tspan>IRAK1/4</tspan><tspan font-size="4.42" dy="-2.55">dKO</tspan></text>
<clipPath id="c1"><rect x="271.1" y="618.9" width="56.89999999999998" height="56.700000000000045"/></clipPath><g clip-path="url(#c1)">
<rect x="271.1" y="618.9" width="56.89999999999998" height="56.700000000000045" fill="url(#gwt)"/>
<line x1="271.9" y1="618.9" x2="271.9" y2="664" stroke="#ffffff" stroke-width="0.5" opacity="0.35"/>
<line x1="273.5" y1="618.9" x2="273.5" y2="664" stroke="#ffffff" stroke-width="0.5" opacity="0.35"/>
<line x1="275.1" y1="618.9" x2="275.1" y2="664" stroke="#ffffff" stroke-width="0.5" opacity="0.35"/>
<line x1="276.7" y1="618.9" x2="276.7" y2="664" stroke="#ffffff" stroke-width="0.5" opacity="0.35"/>
<line x1="278.3" y1="618.9" x2="278.3" y2="664" stroke="#ffffff" stroke-width="0.5" opacity="0.35"/>
<line x1="279.9" y1="618.9" x2="279.9" y2="664" stroke="#ffffff" stroke-width="0.5" opacity="0.35"/>
<line x1="281.5" y1="618.9" x2="281.5" y2="664" stroke="#ffffff" stroke-width="0.5" opacity="0.35"/>
<line x1="283.1" y1="618.9" x2="283.1" y2="664" stroke="#ffffff" stroke-width="0.5" opacity="0.35"/>
<line x1="284.7" y1="618.9" x2="284.7" y2="664" stroke="#ffffff" stroke-width="0.5" opacity="0.35"/>
<line x1="286.3" y1="618.9" x2="286.3" y2="664" stroke="#ffffff" stroke-width="0.5" opacity="0.35"/>
<line x1="287.9" y1="618.9" x2="287.9" y2="664" stroke="#ffffff" stroke-width="0.5" opacity="0.35"/>
<line x1="289.5" y1="618.9" x2="289.5" y2="664" stroke="#ffffff" stroke-width="0.5" opacity="0.35"/>
<line x1="291.1" y1="618.9" x2="291.1" y2="664" stroke="#ffffff" stroke-width="0.5" opacity="0.35"/>
<line x1="292.7" y1="618.9" x2="292.7" y2="664" stroke="#ffffff" stroke-width="0.5" opacity="0.35"/>
<line x1="294.3" y1="618.9" x2="294.3" y2="664" stroke="#ffffff" stroke-width="0.5" opacity="0.35"/>
<line x1="295.9" y1="618.9" x2="295.9" y2="664" stroke="#ffffff" stroke-width="0.5" opacity="0.35"/>
<line x1="297.5" y1="618.9" x2="297.5" y2="664" stroke="#ffffff" stroke-width="0.5" opacity="0.35"/>
<line x1="299.1" y1="618.9" x2="299.1" y2="664" stroke="#ffffff" stroke-width="0.5" opacity="0.35"/>
<line x1="300.7" y1="618.9" x2="300.7" y2="664" stroke="#ffffff" stroke-width="0.5" opacity="0.35"/>
<line x1="302.3" y1="618.9" x2="302.3" y2="664" stroke="#ffffff" stroke-width="0.5" opacity="0.35"/>
<line x1="303.9" y1="618.9" x2="303.9" y2="664" stroke="#ffffff" stroke-width="0.5" opacity="0.35"/>
<line x1="305.5" y1="618.9" x2="305.5" y2="664" stroke="#ffffff" stroke-width="0.5" opacity="0.35"/>
<line x1="307.1" y1="618.9" x2="307.1" y2="664" stroke="#ffffff" stroke-width="0.5" opacity="0.35"/>
<line x1="308.7" y1="618.9" x2="308.7" y2="664" stroke="#ffffff" stroke-width="0.5" opacity="0.35"/>
<line x1="310.3" y1="618.9" x2="310.3" y2="664" stroke="#ffffff" stroke-width="0.5" opacity="0.35"/>
<line x1="311.9" y1="618.9" x2="311.9" y2="664" stroke="#ffffff" stroke-width="0.5" opacity="0.35"/>
<line x1="313.5" y1="618.9" x2="313.5" y2="664" stroke="#ffffff" stroke-width="0.5" opacity="0.35"/>
<line x1="315.1" y1="618.9" x2="315.1" y2="664" stroke="#ffffff" stroke-width="0.5" opacity="0.35"/>
<line x1="316.7" y1="618.9" x2="316.7" y2="664" stroke="#ffffff" stroke-width="0.5" opacity="0.35"/>
<line x1="318.3" y1="618.9" x2="318.3" y2="664" stroke="#ffffff" stroke-width="0.5" opacity="0.35"/>
<line x1="319.9" y1="618.9" x2="319.9" y2="664" stroke="#ffffff" stroke-width="0.5" opacity="0.35"/>
<line x1="321.5" y1="618.9" x2="321.5" y2="664" stroke="#ffffff" stroke-width="0.5" opacity="0.35"/>
<line x1="323.1" y1="618.9" x2="323.1" y2="664" stroke="#ffffff" stroke-width="0.5" opacity="0.35"/>
<line x1="324.7" y1="618.9" x2="324.7" y2="664" stroke="#ffffff" stroke-width="0.5" opacity="0.35"/>
<line x1="326.3" y1="618.9" x2="326.3" y2="664" stroke="#ffffff" stroke-width="0.5" opacity="0.35"/>
<line x1="327.9" y1="618.9" x2="327.9" y2="664" stroke="#ffffff" stroke-width="0.5" opacity="0.35"/>
<rect x="271.10" y="664.00" width="56.90" height="11.60" fill="#244f7e"/>
<line x1="271.10" y1="664.50" x2="328.00" y2="664.50" stroke="#5f86b0" stroke-width="0.8" opacity="0.7"/>
<line x1="273.10" y1="665.50" x2="273.10" y2="667.50" stroke="#8fb0d0" stroke-width="0.6" opacity="0.7"/>
<line x1="274.60" y1="670.60" x2="274.60" y2="673.10" stroke="#8fb0d0" stroke-width="0.5" opacity="0.5"/>
<line x1="277.09" y1="665.50" x2="277.09" y2="669.50" stroke="#8fb0d0" stroke-width="0.6" opacity="0.7"/>
<line x1="278.59" y1="670.60" x2="278.59" y2="673.10" stroke="#8fb0d0" stroke-width="0.5" opacity="0.5"/>
<line x1="281.09" y1="665.50" x2="281.09" y2="667.50" stroke="#8fb0d0" stroke-width="0.6" opacity="0.7"/>
<line x1="282.59" y1="670.60" x2="282.59" y2="673.10" stroke="#8fb0d0" stroke-width="0.5" opacity="0.5"/>
<line x1="285.08" y1="665.50" x2="285.08" y2="669.50" stroke="#8fb0d0" stroke-width="0.6" opacity="0.7"/>
<line x1="286.58" y1="670.60" x2="286.58" y2="673.10" stroke="#8fb0d0" stroke-width="0.5" opacity="0.5"/>
<line x1="289.07" y1="665.50" x2="289.07" y2="667.50" stroke="#8fb0d0" stroke-width="0.6" opacity="0.7"/>
<line x1="290.57" y1="670.60" x2="290.57" y2="673.10" stroke="#8fb0d0" stroke-width="0.5" opacity="0.5"/>
<line x1="293.06" y1="665.50" x2="293.06" y2="669.50" stroke="#8fb0d0" stroke-width="0.6" opacity="0.7"/>
<line x1="294.56" y1="670.60" x2="294.56" y2="673.10" stroke="#8fb0d0" stroke-width="0.5" opacity="0.5"/>
<line x1="297.06" y1="665.50" x2="297.06" y2="667.50" stroke="#8fb0d0" stroke-width="0.6" opacity="0.7"/>
<line x1="298.56" y1="670.60" x2="298.56" y2="673.10" stroke="#8fb0d0" stroke-width="0.5" opacity="0.5"/>
<line x1="301.05" y1="665.50" x2="301.05" y2="669.50" stroke="#8fb0d0" stroke-width="0.6" opacity="0.7"/>
<line x1="302.55" y1="670.60" x2="302.55" y2="673.10" stroke="#8fb0d0" stroke-width="0.5" opacity="0.5"/>
<line x1="305.04" y1="665.50" x2="305.04" y2="667.50" stroke="#8fb0d0" stroke-width="0.6" opacity="0.7"/>
<line x1="306.54" y1="670.60" x2="306.54" y2="673.10" stroke="#8fb0d0" stroke-width="0.5" opacity="0.5"/>
<line x1="309.03" y1="665.50" x2="309.03" y2="669.50" stroke="#8fb0d0" stroke-width="0.6" opacity="0.7"/>
<line x1="310.53" y1="670.60" x2="310.53" y2="673.10" stroke="#8fb0d0" stroke-width="0.5" opacity="0.5"/>
<line x1="313.03" y1="665.50" x2="313.03" y2="667.50" stroke="#8fb0d0" stroke-width="0.6" opacity="0.7"/>
<line x1="314.53" y1="670.60" x2="314.53" y2="673.10" stroke="#8fb0d0" stroke-width="0.5" opacity="0.5"/>
<line x1="317.02" y1="665.50" x2="317.02" y2="669.50" stroke="#8fb0d0" stroke-width="0.6" opacity="0.7"/>
<line x1="318.52" y1="670.60" x2="318.52" y2="673.10" stroke="#8fb0d0" stroke-width="0.5" opacity="0.5"/>
<line x1="321.01" y1="665.50" x2="321.01" y2="667.50" stroke="#8fb0d0" stroke-width="0.6" opacity="0.7"/>
<line x1="322.51" y1="670.60" x2="322.51" y2="673.10" stroke="#8fb0d0" stroke-width="0.5" opacity="0.5"/>
<line x1="325.00" y1="665.50" x2="325.00" y2="669.50" stroke="#8fb0d0" stroke-width="0.6" opacity="0.7"/>
<line x1="326.50" y1="670.60" x2="326.50" y2="673.10" stroke="#8fb0d0" stroke-width="0.5" opacity="0.5"/>
<path d="M276.0,633.0 C277.3,630.8 279.7,628.3 282.0,627.0 C284.3,625.7 287.7,624.8 290.0,625.0 C292.3,625.2 293.8,627.8 296.0,628.0 C298.2,628.2 300.7,626.2 303.0,626.0 C305.3,625.8 307.8,626.2 310.0,627.0 C312.2,627.8 314.7,629.2 316.0,631.0 C317.3,632.8 318.3,635.8 318.0,638.0 C317.7,640.2 316.0,642.5 314.0,644.0 C312.0,645.5 308.3,646.0 306.0,647.0 C303.7,648.0 301.3,648.5 300.0,650.0 C298.7,651.5 299.3,654.3 298.0,656.0 C296.7,657.7 294.3,659.3 292.0,660.0 C289.7,660.7 286.5,660.8 284.0,660.0 C281.5,659.2 278.8,657.2 277.0,655.0 C275.2,652.8 273.5,649.5 273.0,647.0 C272.5,644.5 273.5,642.3 274.0,640.0 C274.5,637.7 274.7,635.2 276.0,633.0 Z" fill="#6e2a1c" opacity="1.0" filter="url(#bl)"/>
<path d="M284.0,640.0 C285.3,637.3 288.7,636.7 292.0,636.0 C295.3,635.3 300.7,635.7 304.0,636.0 C307.3,636.3 311.3,636.5 312.0,638.0 C312.7,639.5 310.3,643.3 308.0,645.0 C305.7,646.7 300.7,646.5 298.0,648.0 C295.3,649.5 294.3,653.3 292.0,654.0 C289.7,654.7 285.3,654.3 284.0,652.0 C282.7,649.7 282.7,642.7 284.0,640.0 Z" fill="#4a1410" opacity="1.0" filter="url(#bl2)"/>
<circle cx="287" cy="637" r="3.2" fill="#a26a5a" opacity="1.0" filter="url(#bl2)"/>
<circle cx="296" cy="632" r="3.0" fill="#9a6050" opacity="1.0" filter="url(#bl2)"/>
<circle cx="305" cy="631" r="2.6" fill="#8e5648" opacity="1.0" filter="url(#bl2)"/>
<circle cx="285" cy="650" r="2.6" fill="#8a5040" opacity="1.0" filter="url(#bl2)"/>
<circle cx="291" cy="646" r="2.2" fill="#946050" opacity="1.0" filter="url(#bl2)"/>
<circle cx="280" cy="643" r="2.2" fill="#84483a" opacity="1.0" filter="url(#bl2)"/>
<circle cx="312" cy="636" r="2" fill="#845040" opacity="1.0" filter="url(#bl2)"/>
<circle cx="288" cy="638" r="1.5" fill="#e8d0d0" opacity="1.0" filter="url(#bl)"/>
<circle cx="281" cy="633" r="0.9" fill="#f0e0e0" opacity="1.0" filter="url(#bl)"/>
<circle cx="290" cy="624.5" r="1.8" fill="#ec9a9a" opacity="1.0" filter="url(#bl)"/>
<circle cx="318.5" cy="630" r="1.6" fill="#ec9a9a" opacity="1.0" filter="url(#bl)"/>
</g>
<clipPath id="c2"><rect x="330.4" y="619.0" width="56.900000000000034" height="56.60000000000002"/></clipPath><g clip-path="url(#c2)">
<rect x="330.40" y="619.00" width="56.90" height="56.60" fill="#ebe3d5"/>
<circle cx="334" cy="626" r="0.9" fill="#c8b8a0" opacity="0.8" filter="url(#bl)"/>
<circle cx="338" cy="632" r="0.9" fill="#c8b8a0" opacity="0.8" filter="url(#bl)"/>
<circle cx="333" cy="645" r="0.9" fill="#c8b8a0" opacity="0.8" filter="url(#bl)"/>
<circle cx="336" cy="652" r="0.9" fill="#c8b8a0" opacity="0.8" filter="url(#bl)"/>
<circle cx="345" cy="624" r="0.9" fill="#c8b8a0" opacity="0.8" filter="url(#bl)"/>
<circle cx="352" cy="628" r="0.9" fill="#c8b8a0" opacity="0.8" filter="url(#bl)"/>
<circle cx="360" cy="626" r="0.9" fill="#c8b8a0" opacity="0.8" filter="url(#bl)"/>
<circle cx="366" cy="624" r="0.9" fill="#c8b8a0" opacity="0.8" filter="url(#bl)"/>
<circle cx="379" cy="628" r="0.9" fill="#c8b8a0" opacity="0.8" filter="url(#bl)"/>
<circle cx="382" cy="640" r="0.9" fill="#c8b8a0" opacity="0.8" filter="url(#bl)"/>
<circle cx="340" cy="660" r="0.9" fill="#c8b8a0" opacity="0.8" filter="url(#bl)"/>
<circle cx="335" cy="668" r="0.9" fill="#c8b8a0" opacity="0.8" filter="url(#bl)"/>
<rect x="337.50" y="654.40" width="49.80" height="21.20" fill="#5d80b6"/>
<line x1="337.50" y1="654.90" x2="387.30" y2="654.90" stroke="#8aa6d0" stroke-width="0.8" opacity="0.7"/>
<line x1="339.50" y1="655.90" x2="339.50" y2="657.90" stroke="#2f4f88" stroke-width="0.6" opacity="0.7"/>
<line x1="341.00" y1="670.60" x2="341.00" y2="673.10" stroke="#2f4f88" stroke-width="0.5" opacity="0.5"/>
<line x1="342.97" y1="655.90" x2="342.97" y2="659.90" stroke="#2f4f88" stroke-width="0.6" opacity="0.7"/>
<line x1="344.47" y1="670.60" x2="344.47" y2="673.10" stroke="#2f4f88" stroke-width="0.5" opacity="0.5"/>
<line x1="346.43" y1="655.90" x2="346.43" y2="657.90" stroke="#2f4f88" stroke-width="0.6" opacity="0.7"/>
<line x1="347.93" y1="670.60" x2="347.93" y2="673.10" stroke="#2f4f88" stroke-width="0.5" opacity="0.5"/>
<line x1="349.90" y1="655.90" x2="349.90" y2="659.90" stroke="#2f4f88" stroke-width="0.6" opacity="0.7"/>
<line x1="351.40" y1="670.60" x2="351.40" y2="673.10" stroke="#2f4f88" stroke-width="0.5" opacity="0.5"/>
<line x1="353.37" y1="655.90" x2="353.37" y2="657.90" stroke="#2f4f88" stroke-width="0.6" opacity="0.7"/>
<line x1="354.87" y1="670.60" x2="354.87" y2="673.10" stroke="#2f4f88" stroke-width="0.5" opacity="0.5"/>
<line x1="356.83" y1="655.90" x2="356.83" y2="659.90" stroke="#2f4f88" stroke-width="0.6" opacity="0.7"/>
<line x1="358.33" y1="670.60" x2="358.33" y2="673.10" stroke="#2f4f88" stroke-width="0.5" opacity="0.5"/>
<line x1="360.30" y1="655.90" x2="360.30" y2="657.90" stroke="#2f4f88" stroke-width="0.6" opacity="0.7"/>
<line x1="361.80" y1="670.60" x2="361.80" y2="673.10" stroke="#2f4f88" stroke-width="0.5" opacity="0.5"/>
<line x1="363.77" y1="655.90" x2="363.77" y2="659.90" stroke="#2f4f88" stroke-width="0.6" opacity="0.7"/>
<line x1="365.27" y1="670.60" x2="365.27" y2="673.10" stroke="#2f4f88" stroke-width="0.5" opacity="0.5"/>
<line x1="367.23" y1="655.90" x2="367.23" y2="657.90" stroke="#2f4f88" stroke-width="0.6" opacity="0.7"/>
<line x1="368.73" y1="670.60" x2="368.73" y2="673.10" stroke="#2f4f88" stroke-width="0.5" opacity="0.5"/>
<line x1="370.70" y1="655.90" x2="370.70" y2="659.90" stroke="#2f4f88" stroke-width="0.6" opacity="0.7"/>
<line x1="372.20" y1="670.60" x2="372.20" y2="673.10" stroke="#2f4f88" stroke-width="0.5" opacity="0.5"/>
<line x1="374.17" y1="655.90" x2="374.17" y2="657.90" stroke="#2f4f88" stroke-width="0.6" opacity="0.7"/>
<line x1="375.67" y1="670.60" x2="375.67" y2="673.10" stroke="#2f4f88" stroke-width="0.5" opacity="0.5"/>
<line x1="377.63" y1="655.90" x2="377.63" y2="659.90" stroke="#2f4f88" stroke-width="0.6" opacity="0.7"/>
<line x1="379.13" y1="670.60" x2="379.13" y2="673.10" stroke="#2f4f88" stroke-width="0.5" opacity="0.5"/>
<line x1="381.10" y1="655.90" x2="381.10" y2="657.90" stroke="#2f4f88" stroke-width="0.6" opacity="0.7"/>
<line x1="382.60" y1="670.60" x2="382.60" y2="673.10" stroke="#2f4f88" stroke-width="0.5" opacity="0.5"/>
<line x1="384.57" y1="655.90" x2="384.57" y2="659.90" stroke="#2f4f88" stroke-width="0.6" opacity="0.7"/>
<line x1="386.07" y1="670.60" x2="386.07" y2="673.10" stroke="#2f4f88" stroke-width="0.5" opacity="0.5"/>
<line x1="340.00" y1="660.50" x2="386.00" y2="660.50" stroke="#34548c" stroke-width="0.7" opacity="0.6"/>
<line x1="340.00" y1="665.50" x2="386.00" y2="665.50" stroke="#34548c" stroke-width="0.7" opacity="0.6"/>
<line x1="340.00" y1="671.00" x2="386.00" y2="671.00" stroke="#34548c" stroke-width="0.7" opacity="0.6"/>
<path d="M342.0,638.0 C342.7,636.5 343.3,634.8 345.0,634.0 C346.7,633.2 349.8,632.8 352.0,633.0 C354.2,633.2 356.0,634.8 358.0,635.0 C360.0,635.2 362.0,634.5 364.0,634.0 C366.0,633.5 368.3,632.2 370.0,632.0 C371.7,631.8 373.7,631.7 374.0,633.0 C374.3,634.3 373.3,637.8 372.0,640.0 C370.7,642.2 368.3,644.3 366.0,646.0 C363.7,647.7 360.7,649.3 358.0,650.0 C355.3,650.7 352.3,650.5 350.0,650.0 C347.7,649.5 345.5,648.2 344.0,647.0 C342.5,645.8 341.3,644.5 341.0,643.0 C340.7,641.5 341.3,639.5 342.0,638.0 Z" fill="#3e0e0c" opacity="1.0" filter="url(#bl)"/>
<circle cx="372.5" cy="633" r="1.8" fill="#e03a3a" opacity="1.0" filter="url(#bl)"/>
<circle cx="348" cy="642" r="0.8" fill="#d0b0b0" opacity="1.0" filter="url(#bl)"/>
<circle cx="352" cy="644" r="0.7" fill="#d0b0b0" opacity="1.0" filter="url(#bl)"/>
<circle cx="362" cy="640" r="2.5" fill="#5a2020" opacity="1.0" filter="url(#bl2)"/>
</g>
<clipPath id="c3"><rect x="390.0" y="619.0" width="57.0" height="56.60000000000002"/></clipPath><g clip-path="url(#c3)">
<rect x="390.00" y="619.00" width="57.00" height="56.60" fill="#d9d3cb"/>
<rect x="390.0" y="619.0" width="57.0" height="56.60000000000002" fill="url(#hatch)" opacity="0.5"/>
<rect x="390.00" y="660.00" width="57.00" height="15.60" fill="#4c6ea5"/>
<line x1="390.00" y1="660.50" x2="447.00" y2="660.50" stroke="#7a96c4" stroke-width="0.8" opacity="0.7"/>
<line x1="392.00" y1="661.50" x2="392.00" y2="663.50" stroke="#2a4a80" stroke-width="0.6" opacity="0.7"/>
<line x1="393.50" y1="670.60" x2="393.50" y2="673.10" stroke="#2a4a80" stroke-width="0.5" opacity="0.5"/>
<line x1="396.00" y1="661.50" x2="396.00" y2="665.50" stroke="#2a4a80" stroke-width="0.6" opacity="0.7"/>
<line x1="397.50" y1="670.60" x2="397.50" y2="673.10" stroke="#2a4a80" stroke-width="0.5" opacity="0.5"/>
<line x1="400.00" y1="661.50" x2="400.00" y2="663.50" stroke="#2a4a80" stroke-width="0.6" opacity="0.7"/>
<line x1="401.50" y1="670.60" x2="401.50" y2="673.10" stroke="#2a4a80" stroke-width="0.5" opacity="0.5"/>
<line x1="404.00" y1="661.50" x2="404.00" y2="665.50" stroke="#2a4a80" stroke-width="0.6" opacity="0.7"/>
<line x1="405.50" y1="670.60" x2="405.50" y2="673.10" stroke="#2a4a80" stroke-width="0.5" opacity="0.5"/>
<line x1="408.00" y1="661.50" x2="408.00" y2="663.50" stroke="#2a4a80" stroke-width="0.6" opacity="0.7"/>
<line x1="409.50" y1="670.60" x2="409.50" y2="673.10" stroke="#2a4a80" stroke-width="0.5" opacity="0.5"/>
<line x1="412.00" y1="661.50" x2="412.00" y2="665.50" stroke="#2a4a80" stroke-width="0.6" opacity="0.7"/>
<line x1="413.50" y1="670.60" x2="413.50" y2="673.10" stroke="#2a4a80" stroke-width="0.5" opacity="0.5"/>
<line x1="416.00" y1="661.50" x2="416.00" y2="663.50" stroke="#2a4a80" stroke-width="0.6" opacity="0.7"/>
<line x1="417.50" y1="670.60" x2="417.50" y2="673.10" stroke="#2a4a80" stroke-width="0.5" opacity="0.5"/>
<line x1="420.00" y1="661.50" x2="420.00" y2="665.50" stroke="#2a4a80" stroke-width="0.6" opacity="0.7"/>
<line x1="421.50" y1="670.60" x2="421.50" y2="673.10" stroke="#2a4a80" stroke-width="0.5" opacity="0.5"/>
<line x1="424.00" y1="661.50" x2="424.00" y2="663.50" stroke="#2a4a80" stroke-width="0.6" opacity="0.7"/>
<line x1="425.50" y1="670.60" x2="425.50" y2="673.10" stroke="#2a4a80" stroke-width="0.5" opacity="0.5"/>
<line x1="428.00" y1="661.50" x2="428.00" y2="665.50" stroke="#2a4a80" stroke-width="0.6" opacity="0.7"/>
<line x1="429.50" y1="670.60" x2="429.50" y2="673.10" stroke="#2a4a80" stroke-width="0.5" opacity="0.5"/>
<line x1="432.00" y1="661.50" x2="432.00" y2="663.50" stroke="#2a4a80" stroke-width="0.6" opacity="0.7"/>
<line x1="433.50" y1="670.60" x2="433.50" y2="673.10" stroke="#2a4a80" stroke-width="0.5" opacity="0.5"/>
<line x1="436.00" y1="661.50" x2="436.00" y2="665.50" stroke="#2a4a80" stroke-width="0.6" opacity="0.7"/>
<line x1="437.50" y1="670.60" x2="437.50" y2="673.10" stroke="#2a4a80" stroke-width="0.5" opacity="0.5"/>
<line x1="440.00" y1="661.50" x2="440.00" y2="663.50" stroke="#2a4a80" stroke-width="0.6" opacity="0.7"/>
<line x1="441.50" y1="670.60" x2="441.50" y2="673.10" stroke="#2a4a80" stroke-width="0.5" opacity="0.5"/>
<line x1="444.00" y1="661.50" x2="444.00" y2="665.50" stroke="#2a4a80" stroke-width="0.6" opacity="0.7"/>
<line x1="445.50" y1="670.60" x2="445.50" y2="673.10" stroke="#2a4a80" stroke-width="0.5" opacity="0.5"/>
<path d="M404.5,633.5 C405.8,632.4 408.4,631.1 410.6,630.4 C412.9,629.7 415.5,629.3 418.0,629.2 C420.5,629.1 423.1,629.3 425.4,629.8 C427.6,630.3 430.1,631.1 431.5,632.2 C432.9,633.3 433.8,635.0 434.0,636.5 C434.2,638.0 433.6,640.0 432.8,641.5 C432.0,643.0 430.6,644.6 429.0,645.8 C427.4,647.0 425.0,648.0 423.0,648.8 C421.0,649.6 418.9,650.2 416.8,650.7 C414.7,651.2 412.5,652.0 410.6,652.0 C408.8,652.0 406.9,651.5 405.7,650.7 C404.5,649.9 403.8,648.5 403.2,647.0 C402.6,645.5 402.1,643.6 402.0,642.0 C401.9,640.4 402.2,638.6 402.6,637.2 C403.0,635.8 403.2,634.6 404.5,633.5 Z" fill="#5e3a38" opacity="1.0" filter="url(#bl)"/>
<path d="M397.0,640.0 C397.7,638.8 399.8,637.0 401.0,637.0 C402.2,637.0 403.5,638.7 404.0,640.0 C404.5,641.3 404.7,643.8 404.0,645.0 C403.3,646.2 401.2,647.2 400.0,647.0 C398.8,646.8 397.5,645.2 397.0,644.0 C396.5,642.8 396.3,641.2 397.0,640.0 Z" fill="#7a4a44" opacity="1.0" filter="url(#bl)"/>
<circle cx="410" cy="636" r="2.6" fill="#3a2222" opacity="1.0" filter="url(#bl2)"/>
<circle cx="418" cy="634" r="2.4" fill="#6a4a48" opacity="1.0" filter="url(#bl2)"/>
<circle cx="426" cy="636" r="2.6" fill="#3e2424" opacity="1.0" filter="url(#bl2)"/>
<circle cx="414" cy="642" r="3.0" fill="#8c8482" opacity="1.0" filter="url(#bl2)"/>
<circle cx="422" cy="643" r="2.6" fill="#9a8e8c" opacity="1.0" filter="url(#bl2)"/>
<circle cx="408" cy="647" r="2.2" fill="#4a2a2a" opacity="1.0" filter="url(#bl2)"/>
<circle cx="428" cy="641" r="2.0" fill="#4a2e2e" opacity="1.0" filter="url(#bl2)"/>
<circle cx="417" cy="648" r="2.0" fill="#7a6a68" opacity="1.0" filter="url(#bl2)"/>
<circle cx="399" cy="629.5" r="1.8" fill="#ec9a9a" opacity="1.0" filter="url(#bl)"/>
<circle cx="437" cy="632" r="1.8" fill="#ec9a9a" opacity="1.0" filter="url(#bl)"/>
<circle cx="401" cy="640" r="1.0" fill="#f0e8e8" opacity="1.0" filter="url(#bl)"/>
</g>
<clipPath id="c4"><rect x="449.3" y="619.0" width="56.30000000000001" height="56.60000000000002"/></clipPath><g clip-path="url(#c4)">
<rect x="449.3" y="619.0" width="56.30000000000001" height="56.60000000000002" fill="url(#gdk)"/>
<rect x="449.30" y="659.30" width="56.30" height="16.30" fill="#3b6891"/>
<line x1="449.30" y1="659.80" x2="505.60" y2="659.80" stroke="#6a90b4" stroke-width="0.8" opacity="0.7"/>
<line x1="451.30" y1="660.80" x2="451.30" y2="662.80" stroke="#9ab6d0" stroke-width="0.6" opacity="0.7"/>
<line x1="452.80" y1="670.60" x2="452.80" y2="673.10" stroke="#9ab6d0" stroke-width="0.5" opacity="0.5"/>
<line x1="455.25" y1="660.80" x2="455.25" y2="664.80" stroke="#9ab6d0" stroke-width="0.6" opacity="0.7"/>
<line x1="456.75" y1="670.60" x2="456.75" y2="673.10" stroke="#9ab6d0" stroke-width="0.5" opacity="0.5"/>
<line x1="459.20" y1="660.80" x2="459.20" y2="662.80" stroke="#9ab6d0" stroke-width="0.6" opacity="0.7"/>
<line x1="460.70" y1="670.60" x2="460.70" y2="673.10" stroke="#9ab6d0" stroke-width="0.5" opacity="0.5"/>
<line x1="463.14" y1="660.80" x2="463.14" y2="664.80" stroke="#9ab6d0" stroke-width="0.6" opacity="0.7"/>
<line x1="464.64" y1="670.60" x2="464.64" y2="673.10" stroke="#9ab6d0" stroke-width="0.5" opacity="0.5"/>
<line x1="467.09" y1="660.80" x2="467.09" y2="662.80" stroke="#9ab6d0" stroke-width="0.6" opacity="0.7"/>
<line x1="468.59" y1="670.60" x2="468.59" y2="673.10" stroke="#9ab6d0" stroke-width="0.5" opacity="0.5"/>
<line x1="471.04" y1="660.80" x2="471.04" y2="664.80" stroke="#9ab6d0" stroke-width="0.6" opacity="0.7"/>
<line x1="472.54" y1="670.60" x2="472.54" y2="673.10" stroke="#9ab6d0" stroke-width="0.5" opacity="0.5"/>
<line x1="474.99" y1="660.80" x2="474.99" y2="662.80" stroke="#9ab6d0" stroke-width="0.6" opacity="0.7"/>
<line x1="476.49" y1="670.60" x2="476.49" y2="673.10" stroke="#9ab6d0" stroke-width="0.5" opacity="0.5"/>
<line x1="478.94" y1="660.80" x2="478.94" y2="664.80" stroke="#9ab6d0" stroke-width="0.6" opacity="0.7"/>
<line x1="480.44" y1="670.60" x2="480.44" y2="673.10" stroke="#9ab6d0" stroke-width="0.5" opacity="0.5"/>
<line x1="482.89" y1="660.80" x2="482.89" y2="662.80" stroke="#9ab6d0" stroke-width="0.6" opacity="0.7"/>
<line x1="484.39" y1="670.60" x2="484.39" y2="673.10" stroke="#9ab6d0" stroke-width="0.5" opacity="0.5"/>
<line x1="486.83" y1="660.80" x2="486.83" y2="664.80" stroke="#9ab6d0" stroke-width="0.6" opacity="0.7"/>
<line x1="488.33" y1="670.60" x2="488.33" y2="673.10" stroke="#9ab6d0" stroke-width="0.5" opacity="0.5"/>
<line x1="490.78" y1="660.80" x2="490.78" y2="662.80" stroke="#9ab6d0" stroke-width="0.6" opacity="0.7"/>
<line x1="492.28" y1="670.60" x2="492.28" y2="673.10" stroke="#9ab6d0" stroke-width="0.5" opacity="0.5"/>
<line x1="494.73" y1="660.80" x2="494.73" y2="664.80" stroke="#9ab6d0" stroke-width="0.6" opacity="0.7"/>
<line x1="496.23" y1="670.60" x2="496.23" y2="673.10" stroke="#9ab6d0" stroke-width="0.5" opacity="0.5"/>
<line x1="498.68" y1="660.80" x2="498.68" y2="662.80" stroke="#9ab6d0" stroke-width="0.6" opacity="0.7"/>
<line x1="500.18" y1="670.60" x2="500.18" y2="673.10" stroke="#9ab6d0" stroke-width="0.5" opacity="0.5"/>
<line x1="502.63" y1="660.80" x2="502.63" y2="664.80" stroke="#9ab6d0" stroke-width="0.6" opacity="0.7"/>
<line x1="504.13" y1="670.60" x2="504.13" y2="673.10" stroke="#9ab6d0" stroke-width="0.5" opacity="0.5"/>
<path d="M456.0,643.0 C456.8,641.2 458.3,639.5 460.0,639.0 C461.7,638.5 464.5,638.8 466.0,640.0 C467.5,641.2 468.7,643.7 469.0,646.0 C469.3,648.3 469.2,652.0 468.0,654.0 C466.8,656.0 463.8,657.7 462.0,658.0 C460.2,658.3 458.2,657.3 457.0,656.0 C455.8,654.7 455.2,652.2 455.0,650.0 C454.8,647.8 455.2,644.8 456.0,643.0 Z" fill="#5a1410" opacity="1.0" filter="url(#bl)"/>
<path d="M467.0,635.0 C468.3,633.0 471.7,631.3 474.0,631.0 C476.3,630.7 479.0,631.5 481.0,633.0 C483.0,634.5 485.0,637.5 486.0,640.0 C487.0,642.5 487.5,645.7 487.0,648.0 C486.5,650.3 484.8,652.8 483.0,654.0 C481.2,655.2 478.2,655.7 476.0,655.0 C473.8,654.3 471.7,652.0 470.0,650.0 C468.3,648.0 466.5,645.5 466.0,643.0 C465.5,640.5 465.7,637.0 467.0,635.0 Z" fill="#3a0a08" opacity="1.0" filter="url(#bl)"/>
<circle cx="456.5" cy="648" r="1.5" fill="#e0d0d8" opacity="1.0" filter="url(#bl)"/>
<circle cx="471" cy="640" r="1.0" fill="#b08080" opacity="1.0" filter="url(#bl)"/>
</g>
</svg></body></html>
